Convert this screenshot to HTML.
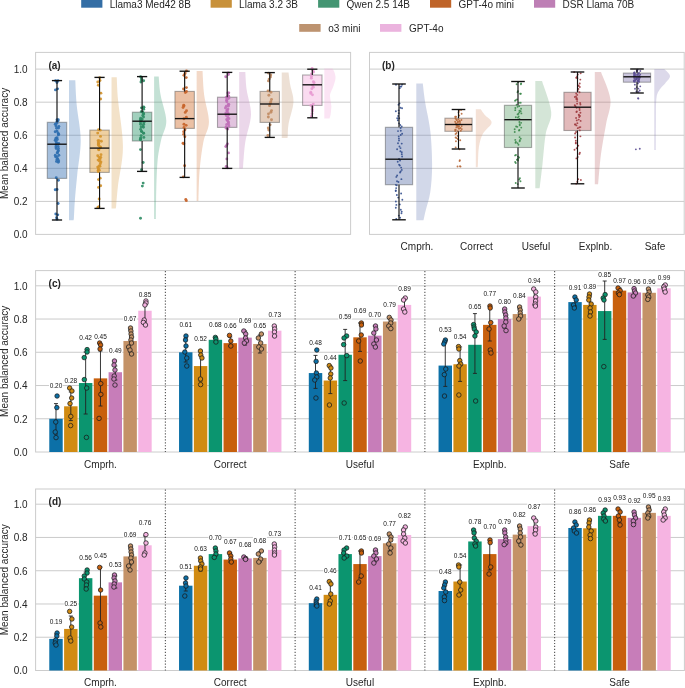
<!DOCTYPE html>
<html><head><meta charset="utf-8"><style>
html,body{margin:0;padding:0;background:#fff;width:685px;height:688px;overflow:hidden}
svg{display:block;will-change:transform}
text{font-family:"Liberation Sans", sans-serif}
</style></head><body>
<svg width="685" height="688" viewBox="0 0 685 688" font-family='"Liberation Sans", sans-serif'>
<rect x="0" y="0" width="685" height="688" fill="white" />
<rect x="81.2" y="-0.3" width="21.2" height="8" fill="#346ea5" />
<text x="109.7" y="7.8" font-size="10" text-anchor="start" font-weight="normal" fill="#262626" >Llama3 Med42 8B</text>
<rect x="210.6" y="-0.3" width="21.2" height="8" fill="#c8913a" />
<text x="239.1" y="7.8" font-size="10" text-anchor="start" font-weight="normal" fill="#262626" >Llama 3.2 3B</text>
<rect x="318.1" y="-0.3" width="21.2" height="8" fill="#439572" />
<text x="346.6" y="7.8" font-size="10" text-anchor="start" font-weight="normal" fill="#262626" >Qwen 2.5 14B</text>
<rect x="430" y="-0.3" width="21.2" height="8" fill="#bf6429" />
<text x="458.5" y="7.8" font-size="10" text-anchor="start" font-weight="normal" fill="#262626" >GPT-4o mini</text>
<rect x="534" y="-0.3" width="21.2" height="8" fill="#be7fb5" />
<text x="562.5" y="7.8" font-size="10" text-anchor="start" font-weight="normal" fill="#262626" >DSR Llama 70B</text>
<rect x="299.2" y="24" width="21.4" height="7.8" fill="#bd9370" />
<text x="328.2" y="31.8" font-size="10" text-anchor="start" font-weight="normal" fill="#262626" >o3 mini</text>
<rect x="380" y="24" width="21.4" height="7.8" fill="#ebb3de" />
<text x="409" y="31.8" font-size="10" text-anchor="start" font-weight="normal" fill="#262626" >GPT-4o</text>
<line x1="35.6" y1="201.42" x2="350.6" y2="201.42" stroke="#c2c2c2" stroke-width="0.85" />
<line x1="35.6" y1="168.34" x2="350.6" y2="168.34" stroke="#c2c2c2" stroke-width="0.85" />
<line x1="35.6" y1="135.26" x2="350.6" y2="135.26" stroke="#c2c2c2" stroke-width="0.85" />
<line x1="35.6" y1="102.18" x2="350.6" y2="102.18" stroke="#c2c2c2" stroke-width="0.85" />
<line x1="35.6" y1="69.1" x2="350.6" y2="69.1" stroke="#c2c2c2" stroke-width="0.85" />
<rect x="35.6" y="52.4" width="315" height="182" fill="none" stroke="#cccccc" stroke-width="1"/>
<text x="27.6" y="238.3" font-size="10" text-anchor="end" font-weight="normal" fill="#262626" >0.0</text>
<text x="27.6" y="205.22" font-size="10" text-anchor="end" font-weight="normal" fill="#262626" >0.2</text>
<text x="27.6" y="172.14" font-size="10" text-anchor="end" font-weight="normal" fill="#262626" >0.4</text>
<text x="27.6" y="139.06" font-size="10" text-anchor="end" font-weight="normal" fill="#262626" >0.6</text>
<text x="27.6" y="105.98" font-size="10" text-anchor="end" font-weight="normal" fill="#262626" >0.8</text>
<text x="27.6" y="72.9" font-size="10" text-anchor="end" font-weight="normal" fill="#262626" >1.0</text>
<path d="M69,80.2 L75.3,80.2 C75.53,84.33 75.8,95.03 76.7,105 C77.6,114.97 80.62,128.33 80.7,140 C80.78,151.67 78.17,165 77.2,175 C76.23,185 75.45,192.83 74.9,200 C74.35,207.17 74.18,214.63 73.9,218 C73.62,221.37 73.32,219.83 73.2,220.2 L69,220.2 Z" fill="#3f76b8" fill-opacity="0.31"/>
<path d="M111.55,77.2 L116.75,77.2 C116.97,81 117.02,88.37 118.05,100 C119.08,111.63 122.97,132.67 122.95,147 C122.93,161.33 119.08,176.17 117.95,186 C116.82,195.83 116.55,202.27 116.15,206 C115.75,209.73 115.65,208 115.55,208.4 L111.55,208.4 Z" fill="#d7a050" fill-opacity="0.31"/>
<path d="M154.1,76.6 L158.7,76.6 C159.02,79.67 159.33,87.6 160.6,95 C161.87,102.4 166.22,113.5 166.3,121 C166.38,128.5 162.58,133 161.1,140 C159.62,147 158.23,153 157.4,163 C156.57,173 156.35,190.67 156.1,200 C155.85,209.33 155.93,215.83 155.9,219 L154.1,219 Z" fill="#3f9e78" fill-opacity="0.31"/>
<path d="M196.65,71.1 L202.55,71.1 C202.82,75.08 203.08,86.52 204.15,95 C205.22,103.48 209.08,114.17 208.95,122 C208.82,129.83 204.9,134 203.35,142 C201.8,150 200.47,160.5 199.65,170 C198.83,179.5 198.68,193.83 198.45,199 C198.22,204.17 198.28,200.67 198.25,201 L196.65,201 Z" fill="#d7844e" fill-opacity="0.31"/>
<path d="M239.2,71.9 L245.3,71.9 C245.53,74.92 245.75,82.9 246.7,90 C247.65,97.1 251.23,105.83 251,114.5 C250.77,123.17 246.62,133.42 245.3,142 C243.98,150.58 243.53,161.6 243.1,166 C242.67,170.4 242.77,168 242.7,168.4 L239.2,168.4 Z" fill="#c07ebb" fill-opacity="0.31"/>
<path d="M281.75,72.4 L288.55,72.4 C288.83,74.5 289.43,80.07 290.25,85 C291.07,89.93 293.73,95.5 293.45,102 C293.17,108.5 289.5,118.33 288.55,124 C287.6,129.67 287.95,133.67 287.75,136 C287.55,138.33 287.42,137.67 287.35,138 L281.75,138 Z" fill="#c49a78" fill-opacity="0.31"/>
<path d="M324.3,68.6 L332.3,68.6 C332.63,69.17 333.77,70.38 334.3,72 C334.83,73.62 335.67,75.9 335.5,78.3 C335.33,80.7 334.13,83.95 333.3,86.4 C332.47,88.85 331.03,91.23 330.5,93 C329.97,94.77 329.97,94.87 330.1,97 C330.23,99.13 331.17,103.3 331.3,105.8 C331.43,108.3 331.07,110.3 330.9,112 C330.73,113.7 330.53,114.92 330.3,116 C330.07,117.08 329.63,118.08 329.5,118.5 L324.3,118.5 Z" fill="#f2a9dc" fill-opacity="0.31"/>
<rect x="47.3" y="122.3" width="19.4" height="56.1" fill="#2866af" fill-opacity="0.42" stroke="#3f3f3f" stroke-opacity="0.42" stroke-width="1.1"/>
<rect x="89.85" y="130.1" width="19.4" height="42.3" fill="#d9901f" fill-opacity="0.42" stroke="#3f3f3f" stroke-opacity="0.42" stroke-width="1.1"/>
<rect x="132.4" y="112.2" width="19.4" height="28.8" fill="#1f8f62" fill-opacity="0.42" stroke="#3f3f3f" stroke-opacity="0.42" stroke-width="1.1"/>
<rect x="174.95" y="91.4" width="19.4" height="37" fill="#cf6a25" fill-opacity="0.42" stroke="#3f3f3f" stroke-opacity="0.42" stroke-width="1.1"/>
<rect x="217.5" y="97.2" width="19.4" height="30.2" fill="#b871b0" fill-opacity="0.42" stroke="#3f3f3f" stroke-opacity="0.42" stroke-width="1.1"/>
<rect x="260.05" y="91.4" width="19.4" height="31" fill="#c08d63" fill-opacity="0.42" stroke="#3f3f3f" stroke-opacity="0.42" stroke-width="1.1"/>
<rect x="302.6" y="75" width="19.4" height="30.4" fill="#f2a9dc" fill-opacity="0.42" stroke="#3f3f3f" stroke-opacity="0.42" stroke-width="1.1"/>
<circle cx="55.61" cy="80.78" r="1.45" fill="#2d6eaf" fill-opacity="0.9"/>
<circle cx="58" cy="80.8" r="1.45" fill="#2d6eaf" fill-opacity="0.9"/>
<circle cx="56.98" cy="82.56" r="1.45" fill="#2d6eaf" fill-opacity="0.9"/>
<circle cx="57.58" cy="88.83" r="1.45" fill="#2d6eaf" fill-opacity="0.9"/>
<circle cx="55.46" cy="89.92" r="1.45" fill="#2d6eaf" fill-opacity="0.9"/>
<circle cx="58.28" cy="119.65" r="1.45" fill="#2d6eaf" fill-opacity="0.9"/>
<circle cx="58" cy="120.9" r="1.45" fill="#2d6eaf" fill-opacity="0.9"/>
<circle cx="56.79" cy="123.18" r="1.45" fill="#2d6eaf" fill-opacity="0.9"/>
<circle cx="55.97" cy="126.06" r="1.45" fill="#2d6eaf" fill-opacity="0.9"/>
<circle cx="58.53" cy="128.02" r="1.45" fill="#2d6eaf" fill-opacity="0.9"/>
<circle cx="55.2" cy="131.73" r="1.45" fill="#2d6eaf" fill-opacity="0.9"/>
<circle cx="58.67" cy="134.3" r="1.45" fill="#2d6eaf" fill-opacity="0.9"/>
<circle cx="55.92" cy="138.14" r="1.45" fill="#2d6eaf" fill-opacity="0.9"/>
<circle cx="55.21" cy="140.18" r="1.45" fill="#2d6eaf" fill-opacity="0.9"/>
<circle cx="56.76" cy="143.2" r="1.45" fill="#2d6eaf" fill-opacity="0.9"/>
<circle cx="55.99" cy="144.78" r="1.45" fill="#2d6eaf" fill-opacity="0.9"/>
<circle cx="55.93" cy="146.97" r="1.45" fill="#2d6eaf" fill-opacity="0.9"/>
<circle cx="56.2" cy="148.62" r="1.45" fill="#2d6eaf" fill-opacity="0.9"/>
<circle cx="58.28" cy="151.05" r="1.45" fill="#2d6eaf" fill-opacity="0.9"/>
<circle cx="57.54" cy="152.75" r="1.45" fill="#2d6eaf" fill-opacity="0.9"/>
<circle cx="58.87" cy="155.29" r="1.45" fill="#2d6eaf" fill-opacity="0.9"/>
<circle cx="55.56" cy="156.87" r="1.45" fill="#2d6eaf" fill-opacity="0.9"/>
<circle cx="57.84" cy="159.17" r="1.45" fill="#2d6eaf" fill-opacity="0.9"/>
<circle cx="58.66" cy="160.94" r="1.45" fill="#2d6eaf" fill-opacity="0.9"/>
<circle cx="58.25" cy="162.34" r="1.45" fill="#2d6eaf" fill-opacity="0.9"/>
<circle cx="56.25" cy="177.77" r="1.45" fill="#2d6eaf" fill-opacity="0.9"/>
<circle cx="58.45" cy="180.28" r="1.45" fill="#2d6eaf" fill-opacity="0.9"/>
<circle cx="57.02" cy="189.47" r="1.45" fill="#2d6eaf" fill-opacity="0.9"/>
<circle cx="55.23" cy="189.79" r="1.45" fill="#2d6eaf" fill-opacity="0.9"/>
<circle cx="58.13" cy="203.53" r="1.45" fill="#2d6eaf" fill-opacity="0.9"/>
<circle cx="55.76" cy="214.04" r="1.45" fill="#2d6eaf" fill-opacity="0.9"/>
<circle cx="57.77" cy="214.84" r="1.45" fill="#2d6eaf" fill-opacity="0.9"/>
<circle cx="56.52" cy="217.75" r="1.45" fill="#2d6eaf" fill-opacity="0.9"/>
<circle cx="57.03" cy="219.22" r="1.45" fill="#2d6eaf" fill-opacity="0.9"/>
<circle cx="57.08" cy="119.61" r="1.45" fill="#2d6eaf" fill-opacity="0.9"/>
<circle cx="56.96" cy="121.52" r="1.45" fill="#2d6eaf" fill-opacity="0.9"/>
<circle cx="55.27" cy="124.26" r="1.45" fill="#2d6eaf" fill-opacity="0.9"/>
<circle cx="58.84" cy="126.37" r="1.45" fill="#2d6eaf" fill-opacity="0.9"/>
<circle cx="56.6" cy="128.24" r="1.45" fill="#2d6eaf" fill-opacity="0.9"/>
<circle cx="57.01" cy="131.09" r="1.45" fill="#2d6eaf" fill-opacity="0.9"/>
<circle cx="58.03" cy="132.93" r="1.45" fill="#2d6eaf" fill-opacity="0.9"/>
<circle cx="58.37" cy="134.89" r="1.45" fill="#2d6eaf" fill-opacity="0.9"/>
<circle cx="57.05" cy="137.66" r="1.45" fill="#2d6eaf" fill-opacity="0.9"/>
<circle cx="57.3" cy="139.47" r="1.45" fill="#2d6eaf" fill-opacity="0.9"/>
<circle cx="56.12" cy="141.74" r="1.45" fill="#2d6eaf" fill-opacity="0.9"/>
<circle cx="58.74" cy="143.5" r="1.45" fill="#2d6eaf" fill-opacity="0.9"/>
<circle cx="58.08" cy="146.36" r="1.45" fill="#2d6eaf" fill-opacity="0.9"/>
<circle cx="58.47" cy="148.49" r="1.45" fill="#2d6eaf" fill-opacity="0.9"/>
<circle cx="58.17" cy="150.51" r="1.45" fill="#2d6eaf" fill-opacity="0.9"/>
<circle cx="57.23" cy="152.64" r="1.45" fill="#2d6eaf" fill-opacity="0.9"/>
<circle cx="55.31" cy="155.2" r="1.45" fill="#2d6eaf" fill-opacity="0.9"/>
<circle cx="57.27" cy="156.86" r="1.45" fill="#2d6eaf" fill-opacity="0.9"/>
<circle cx="57.02" cy="159.29" r="1.45" fill="#2d6eaf" fill-opacity="0.9"/>
<circle cx="56.46" cy="161.38" r="1.45" fill="#2d6eaf" fill-opacity="0.9"/>
<circle cx="99.7" cy="77.7" r="1.45" fill="#d4922a" fill-opacity="0.9"/>
<circle cx="99.98" cy="80.57" r="1.45" fill="#d4922a" fill-opacity="0.9"/>
<circle cx="97.76" cy="81.98" r="1.45" fill="#d4922a" fill-opacity="0.9"/>
<circle cx="98.32" cy="85.27" r="1.45" fill="#d4922a" fill-opacity="0.9"/>
<circle cx="100.92" cy="93.14" r="1.45" fill="#d4922a" fill-opacity="0.9"/>
<circle cx="100.68" cy="98.95" r="1.45" fill="#d4922a" fill-opacity="0.9"/>
<circle cx="98.62" cy="129.77" r="1.45" fill="#d4922a" fill-opacity="0.9"/>
<circle cx="100.21" cy="130.17" r="1.45" fill="#d4922a" fill-opacity="0.9"/>
<circle cx="97.71" cy="133.11" r="1.45" fill="#d4922a" fill-opacity="0.9"/>
<circle cx="100.52" cy="136.4" r="1.45" fill="#d4922a" fill-opacity="0.9"/>
<circle cx="98.07" cy="140.8" r="1.45" fill="#d4922a" fill-opacity="0.9"/>
<circle cx="98.96" cy="140.66" r="1.45" fill="#d4922a" fill-opacity="0.9"/>
<circle cx="98.26" cy="143.02" r="1.45" fill="#d4922a" fill-opacity="0.9"/>
<circle cx="98.29" cy="144.82" r="1.45" fill="#d4922a" fill-opacity="0.9"/>
<circle cx="100.35" cy="146.96" r="1.45" fill="#d4922a" fill-opacity="0.9"/>
<circle cx="98.87" cy="149.68" r="1.45" fill="#d4922a" fill-opacity="0.9"/>
<circle cx="97.74" cy="155.71" r="1.45" fill="#d4922a" fill-opacity="0.9"/>
<circle cx="99.25" cy="157.55" r="1.45" fill="#d4922a" fill-opacity="0.9"/>
<circle cx="98.06" cy="160.12" r="1.45" fill="#d4922a" fill-opacity="0.9"/>
<circle cx="99.59" cy="161.17" r="1.45" fill="#d4922a" fill-opacity="0.9"/>
<circle cx="99.95" cy="166.25" r="1.45" fill="#d4922a" fill-opacity="0.9"/>
<circle cx="97.73" cy="167.11" r="1.45" fill="#d4922a" fill-opacity="0.9"/>
<circle cx="98.21" cy="170.18" r="1.45" fill="#d4922a" fill-opacity="0.9"/>
<circle cx="98.26" cy="171.66" r="1.45" fill="#d4922a" fill-opacity="0.9"/>
<circle cx="100.23" cy="178.14" r="1.45" fill="#d4922a" fill-opacity="0.9"/>
<circle cx="98.49" cy="179.58" r="1.45" fill="#d4922a" fill-opacity="0.9"/>
<circle cx="100.68" cy="185.81" r="1.45" fill="#d4922a" fill-opacity="0.9"/>
<circle cx="98.5" cy="187.42" r="1.45" fill="#d4922a" fill-opacity="0.9"/>
<circle cx="99.15" cy="199.06" r="1.45" fill="#d4922a" fill-opacity="0.9"/>
<circle cx="98.87" cy="206.7" r="1.45" fill="#d4922a" fill-opacity="0.9"/>
<circle cx="97.87" cy="207.44" r="1.45" fill="#d4922a" fill-opacity="0.9"/>
<circle cx="101.33" cy="141.3" r="1.45" fill="#d4922a" fill-opacity="0.9"/>
<circle cx="98.81" cy="143.49" r="1.45" fill="#d4922a" fill-opacity="0.9"/>
<circle cx="98.83" cy="145.75" r="1.45" fill="#d4922a" fill-opacity="0.9"/>
<circle cx="100.48" cy="147.53" r="1.45" fill="#d4922a" fill-opacity="0.9"/>
<circle cx="98.61" cy="149.41" r="1.45" fill="#d4922a" fill-opacity="0.9"/>
<circle cx="100.99" cy="154.63" r="1.45" fill="#d4922a" fill-opacity="0.9"/>
<circle cx="100.76" cy="157.57" r="1.45" fill="#d4922a" fill-opacity="0.9"/>
<circle cx="99.82" cy="159.14" r="1.45" fill="#d4922a" fill-opacity="0.9"/>
<circle cx="100.95" cy="161.98" r="1.45" fill="#d4922a" fill-opacity="0.9"/>
<circle cx="100.33" cy="163.81" r="1.45" fill="#d4922a" fill-opacity="0.9"/>
<circle cx="99.09" cy="165.88" r="1.45" fill="#d4922a" fill-opacity="0.9"/>
<circle cx="98.43" cy="168.34" r="1.45" fill="#d4922a" fill-opacity="0.9"/>
<circle cx="99.3" cy="170.16" r="1.45" fill="#d4922a" fill-opacity="0.9"/>
<circle cx="140.6" cy="76.73" r="1.45" fill="#2e8c64" fill-opacity="0.9"/>
<circle cx="141.33" cy="78.1" r="1.45" fill="#2e8c64" fill-opacity="0.9"/>
<circle cx="141.44" cy="79.9" r="1.45" fill="#2e8c64" fill-opacity="0.9"/>
<circle cx="143.62" cy="80.81" r="1.45" fill="#2e8c64" fill-opacity="0.9"/>
<circle cx="140.96" cy="82.06" r="1.45" fill="#2e8c64" fill-opacity="0.9"/>
<circle cx="143.95" cy="107.33" r="1.45" fill="#2e8c64" fill-opacity="0.9"/>
<circle cx="141.49" cy="107.87" r="1.45" fill="#2e8c64" fill-opacity="0.9"/>
<circle cx="142.76" cy="111.97" r="1.45" fill="#2e8c64" fill-opacity="0.9"/>
<circle cx="143.74" cy="114.08" r="1.45" fill="#2e8c64" fill-opacity="0.9"/>
<circle cx="143.55" cy="116.95" r="1.45" fill="#2e8c64" fill-opacity="0.9"/>
<circle cx="142.04" cy="119.19" r="1.45" fill="#2e8c64" fill-opacity="0.9"/>
<circle cx="141.09" cy="120.48" r="1.45" fill="#2e8c64" fill-opacity="0.9"/>
<circle cx="140.52" cy="122.64" r="1.45" fill="#2e8c64" fill-opacity="0.9"/>
<circle cx="143.66" cy="124.17" r="1.45" fill="#2e8c64" fill-opacity="0.9"/>
<circle cx="143.08" cy="125.98" r="1.45" fill="#2e8c64" fill-opacity="0.9"/>
<circle cx="143.4" cy="127.29" r="1.45" fill="#2e8c64" fill-opacity="0.9"/>
<circle cx="141.49" cy="131.33" r="1.45" fill="#2e8c64" fill-opacity="0.9"/>
<circle cx="143.5" cy="133.08" r="1.45" fill="#2e8c64" fill-opacity="0.9"/>
<circle cx="143.83" cy="137.41" r="1.45" fill="#2e8c64" fill-opacity="0.9"/>
<circle cx="140.71" cy="138.64" r="1.45" fill="#2e8c64" fill-opacity="0.9"/>
<circle cx="140.6" cy="139.83" r="1.45" fill="#2e8c64" fill-opacity="0.9"/>
<circle cx="140.48" cy="149.59" r="1.45" fill="#2e8c64" fill-opacity="0.9"/>
<circle cx="143.19" cy="162.46" r="1.45" fill="#2e8c64" fill-opacity="0.9"/>
<circle cx="141.5" cy="169.69" r="1.45" fill="#2e8c64" fill-opacity="0.9"/>
<circle cx="143.17" cy="183.1" r="1.45" fill="#2e8c64" fill-opacity="0.9"/>
<circle cx="142.37" cy="186.08" r="1.45" fill="#2e8c64" fill-opacity="0.9"/>
<circle cx="140.51" cy="218.21" r="1.45" fill="#2e8c64" fill-opacity="0.9"/>
<circle cx="143.58" cy="107.05" r="1.45" fill="#2e8c64" fill-opacity="0.9"/>
<circle cx="143.72" cy="109.17" r="1.45" fill="#2e8c64" fill-opacity="0.9"/>
<circle cx="141.25" cy="111.63" r="1.45" fill="#2e8c64" fill-opacity="0.9"/>
<circle cx="143.35" cy="113.21" r="1.45" fill="#2e8c64" fill-opacity="0.9"/>
<circle cx="142.75" cy="115.47" r="1.45" fill="#2e8c64" fill-opacity="0.9"/>
<circle cx="140.64" cy="118.31" r="1.45" fill="#2e8c64" fill-opacity="0.9"/>
<circle cx="140.35" cy="119.99" r="1.45" fill="#2e8c64" fill-opacity="0.9"/>
<circle cx="143.96" cy="122.34" r="1.45" fill="#2e8c64" fill-opacity="0.9"/>
<circle cx="140.64" cy="124.33" r="1.45" fill="#2e8c64" fill-opacity="0.9"/>
<circle cx="141.12" cy="127" r="1.45" fill="#2e8c64" fill-opacity="0.9"/>
<circle cx="140.59" cy="129.33" r="1.45" fill="#2e8c64" fill-opacity="0.9"/>
<circle cx="141.64" cy="131.58" r="1.45" fill="#2e8c64" fill-opacity="0.9"/>
<circle cx="143.66" cy="133.24" r="1.45" fill="#2e8c64" fill-opacity="0.9"/>
<circle cx="141.16" cy="135.58" r="1.45" fill="#2e8c64" fill-opacity="0.9"/>
<circle cx="140.58" cy="137.92" r="1.45" fill="#2e8c64" fill-opacity="0.9"/>
<circle cx="140.35" cy="139.61" r="1.45" fill="#2e8c64" fill-opacity="0.9"/>
<circle cx="186.48" cy="70.94" r="1.45" fill="#c8642a" fill-opacity="0.9"/>
<circle cx="185.02" cy="73.56" r="1.45" fill="#c8642a" fill-opacity="0.9"/>
<circle cx="183.94" cy="75.35" r="1.45" fill="#c8642a" fill-opacity="0.9"/>
<circle cx="186.22" cy="77.58" r="1.45" fill="#c8642a" fill-opacity="0.9"/>
<circle cx="186.44" cy="87.59" r="1.45" fill="#c8642a" fill-opacity="0.9"/>
<circle cx="183.57" cy="88.99" r="1.45" fill="#c8642a" fill-opacity="0.9"/>
<circle cx="186.47" cy="91.43" r="1.45" fill="#c8642a" fill-opacity="0.9"/>
<circle cx="185.37" cy="92.53" r="1.45" fill="#c8642a" fill-opacity="0.9"/>
<circle cx="183.73" cy="105.23" r="1.45" fill="#c8642a" fill-opacity="0.9"/>
<circle cx="183.92" cy="106" r="1.45" fill="#c8642a" fill-opacity="0.9"/>
<circle cx="183.06" cy="107.52" r="1.45" fill="#c8642a" fill-opacity="0.9"/>
<circle cx="186.49" cy="110.76" r="1.45" fill="#c8642a" fill-opacity="0.9"/>
<circle cx="185.23" cy="112.41" r="1.45" fill="#c8642a" fill-opacity="0.9"/>
<circle cx="186.32" cy="117.31" r="1.45" fill="#c8642a" fill-opacity="0.9"/>
<circle cx="183.92" cy="118.76" r="1.45" fill="#c8642a" fill-opacity="0.9"/>
<circle cx="183.95" cy="124.28" r="1.45" fill="#c8642a" fill-opacity="0.9"/>
<circle cx="186.15" cy="125.34" r="1.45" fill="#c8642a" fill-opacity="0.9"/>
<circle cx="184.02" cy="127.54" r="1.45" fill="#c8642a" fill-opacity="0.9"/>
<circle cx="184.95" cy="129.68" r="1.45" fill="#c8642a" fill-opacity="0.9"/>
<circle cx="183.68" cy="131.72" r="1.45" fill="#c8642a" fill-opacity="0.9"/>
<circle cx="183.68" cy="134.36" r="1.45" fill="#c8642a" fill-opacity="0.9"/>
<circle cx="184.84" cy="136.76" r="1.45" fill="#c8642a" fill-opacity="0.9"/>
<circle cx="183.04" cy="143.21" r="1.45" fill="#c8642a" fill-opacity="0.9"/>
<circle cx="183.86" cy="143.83" r="1.45" fill="#c8642a" fill-opacity="0.9"/>
<circle cx="184.62" cy="165.69" r="1.45" fill="#c8642a" fill-opacity="0.9"/>
<circle cx="183.34" cy="176.9" r="1.45" fill="#c8642a" fill-opacity="0.9"/>
<circle cx="185.77" cy="199.46" r="1.45" fill="#c8642a" fill-opacity="0.9"/>
<circle cx="186.36" cy="200.64" r="1.45" fill="#c8642a" fill-opacity="0.9"/>
<circle cx="228.25" cy="72.99" r="1.45" fill="#c070b8" fill-opacity="0.9"/>
<circle cx="228.42" cy="74.46" r="1.45" fill="#c070b8" fill-opacity="0.9"/>
<circle cx="225.71" cy="76.71" r="1.45" fill="#c070b8" fill-opacity="0.9"/>
<circle cx="228.79" cy="92.83" r="1.45" fill="#c070b8" fill-opacity="0.9"/>
<circle cx="228.7" cy="96.21" r="1.45" fill="#c070b8" fill-opacity="0.9"/>
<circle cx="228.76" cy="98.23" r="1.45" fill="#c070b8" fill-opacity="0.9"/>
<circle cx="226.5" cy="100.42" r="1.45" fill="#c070b8" fill-opacity="0.9"/>
<circle cx="228.35" cy="104.43" r="1.45" fill="#c070b8" fill-opacity="0.9"/>
<circle cx="228.49" cy="105.9" r="1.45" fill="#c070b8" fill-opacity="0.9"/>
<circle cx="227.92" cy="108.94" r="1.45" fill="#c070b8" fill-opacity="0.9"/>
<circle cx="226.94" cy="110.53" r="1.45" fill="#c070b8" fill-opacity="0.9"/>
<circle cx="228.02" cy="112.93" r="1.45" fill="#c070b8" fill-opacity="0.9"/>
<circle cx="226.26" cy="115.45" r="1.45" fill="#c070b8" fill-opacity="0.9"/>
<circle cx="228.96" cy="118.65" r="1.45" fill="#c070b8" fill-opacity="0.9"/>
<circle cx="227.39" cy="120.43" r="1.45" fill="#c070b8" fill-opacity="0.9"/>
<circle cx="228.53" cy="122.46" r="1.45" fill="#c070b8" fill-opacity="0.9"/>
<circle cx="226.8" cy="124.37" r="1.45" fill="#c070b8" fill-opacity="0.9"/>
<circle cx="226.28" cy="126.62" r="1.45" fill="#c070b8" fill-opacity="0.9"/>
<circle cx="227.76" cy="129.03" r="1.45" fill="#c070b8" fill-opacity="0.9"/>
<circle cx="227.47" cy="143.85" r="1.45" fill="#c070b8" fill-opacity="0.9"/>
<circle cx="226.65" cy="145.41" r="1.45" fill="#c070b8" fill-opacity="0.9"/>
<circle cx="225.78" cy="146.61" r="1.45" fill="#c070b8" fill-opacity="0.9"/>
<circle cx="228.45" cy="152.92" r="1.45" fill="#c070b8" fill-opacity="0.9"/>
<circle cx="226.82" cy="158.89" r="1.45" fill="#c070b8" fill-opacity="0.9"/>
<circle cx="226.19" cy="166.41" r="1.45" fill="#c070b8" fill-opacity="0.9"/>
<circle cx="227.31" cy="167.8" r="1.45" fill="#c070b8" fill-opacity="0.9"/>
<circle cx="227.77" cy="92.95" r="1.45" fill="#c070b8" fill-opacity="0.9"/>
<circle cx="227.91" cy="95.39" r="1.45" fill="#c070b8" fill-opacity="0.9"/>
<circle cx="226.21" cy="97.4" r="1.45" fill="#c070b8" fill-opacity="0.9"/>
<circle cx="227.12" cy="99.38" r="1.45" fill="#c070b8" fill-opacity="0.9"/>
<circle cx="226.87" cy="101.85" r="1.45" fill="#c070b8" fill-opacity="0.9"/>
<circle cx="228.75" cy="104.33" r="1.45" fill="#c070b8" fill-opacity="0.9"/>
<circle cx="226.35" cy="106.32" r="1.45" fill="#c070b8" fill-opacity="0.9"/>
<circle cx="225.48" cy="108.06" r="1.45" fill="#c070b8" fill-opacity="0.9"/>
<circle cx="227.24" cy="110.9" r="1.45" fill="#c070b8" fill-opacity="0.9"/>
<circle cx="225.91" cy="113.01" r="1.45" fill="#c070b8" fill-opacity="0.9"/>
<circle cx="228.66" cy="114.85" r="1.45" fill="#c070b8" fill-opacity="0.9"/>
<circle cx="227.93" cy="117.48" r="1.45" fill="#c070b8" fill-opacity="0.9"/>
<circle cx="226.71" cy="119.56" r="1.45" fill="#c070b8" fill-opacity="0.9"/>
<circle cx="228.1" cy="121.68" r="1.45" fill="#c070b8" fill-opacity="0.9"/>
<circle cx="228.55" cy="124.12" r="1.45" fill="#c070b8" fill-opacity="0.9"/>
<circle cx="228.95" cy="126.06" r="1.45" fill="#c070b8" fill-opacity="0.9"/>
<circle cx="225.97" cy="128" r="1.45" fill="#c070b8" fill-opacity="0.9"/>
<circle cx="268.68" cy="73.16" r="1.45" fill="#c08a60" fill-opacity="0.9"/>
<circle cx="270.73" cy="74.94" r="1.45" fill="#c08a60" fill-opacity="0.9"/>
<circle cx="270.44" cy="77.07" r="1.45" fill="#c08a60" fill-opacity="0.9"/>
<circle cx="269.17" cy="79.11" r="1.45" fill="#c08a60" fill-opacity="0.9"/>
<circle cx="268.48" cy="80.88" r="1.45" fill="#c08a60" fill-opacity="0.9"/>
<circle cx="268" cy="90.88" r="1.45" fill="#c08a60" fill-opacity="0.9"/>
<circle cx="270.92" cy="92.3" r="1.45" fill="#c08a60" fill-opacity="0.9"/>
<circle cx="268.87" cy="95.23" r="1.45" fill="#c08a60" fill-opacity="0.9"/>
<circle cx="271.5" cy="99.51" r="1.45" fill="#c08a60" fill-opacity="0.9"/>
<circle cx="270.8" cy="101.67" r="1.45" fill="#c08a60" fill-opacity="0.9"/>
<circle cx="270.36" cy="103.26" r="1.45" fill="#c08a60" fill-opacity="0.9"/>
<circle cx="269.54" cy="105.64" r="1.45" fill="#c08a60" fill-opacity="0.9"/>
<circle cx="271.54" cy="110.61" r="1.45" fill="#c08a60" fill-opacity="0.9"/>
<circle cx="270.9" cy="112.25" r="1.45" fill="#c08a60" fill-opacity="0.9"/>
<circle cx="268.48" cy="113.86" r="1.45" fill="#c08a60" fill-opacity="0.9"/>
<circle cx="268.33" cy="117.03" r="1.45" fill="#c08a60" fill-opacity="0.9"/>
<circle cx="271.5" cy="119.7" r="1.45" fill="#c08a60" fill-opacity="0.9"/>
<circle cx="270.13" cy="124.83" r="1.45" fill="#c08a60" fill-opacity="0.9"/>
<circle cx="268.3" cy="128.04" r="1.45" fill="#c08a60" fill-opacity="0.9"/>
<circle cx="268.79" cy="130" r="1.45" fill="#c08a60" fill-opacity="0.9"/>
<circle cx="267.87" cy="135.55" r="1.45" fill="#c08a60" fill-opacity="0.9"/>
<circle cx="312.07" cy="68.42" r="1.45" fill="#e89ad2" fill-opacity="0.9"/>
<circle cx="312.78" cy="70.58" r="1.45" fill="#e89ad2" fill-opacity="0.9"/>
<circle cx="313.57" cy="72.07" r="1.45" fill="#e89ad2" fill-opacity="0.9"/>
<circle cx="311.48" cy="74.03" r="1.45" fill="#e89ad2" fill-opacity="0.9"/>
<circle cx="311.44" cy="76.27" r="1.45" fill="#e89ad2" fill-opacity="0.9"/>
<circle cx="311.35" cy="78.15" r="1.45" fill="#e89ad2" fill-opacity="0.9"/>
<circle cx="313.41" cy="81.65" r="1.45" fill="#e89ad2" fill-opacity="0.9"/>
<circle cx="314.1" cy="82.74" r="1.45" fill="#e89ad2" fill-opacity="0.9"/>
<circle cx="312.27" cy="85.18" r="1.45" fill="#e89ad2" fill-opacity="0.9"/>
<circle cx="313.32" cy="87.16" r="1.45" fill="#e89ad2" fill-opacity="0.9"/>
<circle cx="311.86" cy="88.63" r="1.45" fill="#e89ad2" fill-opacity="0.9"/>
<circle cx="310.81" cy="92.15" r="1.45" fill="#e89ad2" fill-opacity="0.9"/>
<circle cx="310.85" cy="93.4" r="1.45" fill="#e89ad2" fill-opacity="0.9"/>
<circle cx="312.47" cy="94.87" r="1.45" fill="#e89ad2" fill-opacity="0.9"/>
<circle cx="313.29" cy="104.08" r="1.45" fill="#e89ad2" fill-opacity="0.9"/>
<circle cx="310.92" cy="105.4" r="1.45" fill="#e89ad2" fill-opacity="0.9"/>
<circle cx="312.58" cy="107.05" r="1.45" fill="#e89ad2" fill-opacity="0.9"/>
<circle cx="312.31" cy="109.19" r="1.45" fill="#e89ad2" fill-opacity="0.9"/>
<circle cx="312.41" cy="111.1" r="1.45" fill="#e89ad2" fill-opacity="0.9"/>
<circle cx="312.08" cy="113.66" r="1.45" fill="#e89ad2" fill-opacity="0.9"/>
<circle cx="311.56" cy="116.22" r="1.45" fill="#e89ad2" fill-opacity="0.9"/>
<line x1="57" y1="80.6" x2="57" y2="122.3" stroke="#111" stroke-width="1.15" />
<line x1="57" y1="178.4" x2="57" y2="220" stroke="#111" stroke-width="1.15" />
<line x1="51.9" y1="80.6" x2="62.1" y2="80.6" stroke="#111" stroke-width="1.3499999999999999" />
<line x1="51.9" y1="220" x2="62.1" y2="220" stroke="#111" stroke-width="1.3499999999999999" />
<line x1="47.3" y1="144.2" x2="66.7" y2="144.2" stroke="#111" stroke-width="1.3499999999999999" />
<line x1="99.55" y1="77.4" x2="99.55" y2="130.1" stroke="#111" stroke-width="1.15" />
<line x1="99.55" y1="172.4" x2="99.55" y2="208.4" stroke="#111" stroke-width="1.15" />
<line x1="94.45" y1="77.4" x2="104.65" y2="77.4" stroke="#111" stroke-width="1.3499999999999999" />
<line x1="94.45" y1="208.4" x2="104.65" y2="208.4" stroke="#111" stroke-width="1.3499999999999999" />
<line x1="89.85" y1="148.1" x2="109.25" y2="148.1" stroke="#111" stroke-width="1.3499999999999999" />
<line x1="142.1" y1="76.6" x2="142.1" y2="112.2" stroke="#111" stroke-width="1.15" />
<line x1="142.1" y1="141" x2="142.1" y2="171.4" stroke="#111" stroke-width="1.15" />
<line x1="137" y1="76.6" x2="147.2" y2="76.6" stroke="#111" stroke-width="1.3499999999999999" />
<line x1="137" y1="171.4" x2="147.2" y2="171.4" stroke="#111" stroke-width="1.3499999999999999" />
<line x1="132.4" y1="121.2" x2="151.8" y2="121.2" stroke="#111" stroke-width="1.3499999999999999" />
<line x1="184.65" y1="71.2" x2="184.65" y2="91.4" stroke="#111" stroke-width="1.15" />
<line x1="184.65" y1="128.4" x2="184.65" y2="177.4" stroke="#111" stroke-width="1.15" />
<line x1="179.55" y1="71.2" x2="189.75" y2="71.2" stroke="#111" stroke-width="1.3499999999999999" />
<line x1="179.55" y1="177.4" x2="189.75" y2="177.4" stroke="#111" stroke-width="1.3499999999999999" />
<line x1="174.95" y1="118.6" x2="194.35" y2="118.6" stroke="#111" stroke-width="1.3499999999999999" />
<line x1="227.2" y1="72.4" x2="227.2" y2="97.2" stroke="#111" stroke-width="1.15" />
<line x1="227.2" y1="127.4" x2="227.2" y2="168.4" stroke="#111" stroke-width="1.15" />
<line x1="222.1" y1="72.4" x2="232.3" y2="72.4" stroke="#111" stroke-width="1.3499999999999999" />
<line x1="222.1" y1="168.4" x2="232.3" y2="168.4" stroke="#111" stroke-width="1.3499999999999999" />
<line x1="217.5" y1="114.2" x2="236.9" y2="114.2" stroke="#111" stroke-width="1.3499999999999999" />
<line x1="269.75" y1="72.6" x2="269.75" y2="91.4" stroke="#111" stroke-width="1.15" />
<line x1="269.75" y1="122.4" x2="269.75" y2="137.4" stroke="#111" stroke-width="1.15" />
<line x1="264.65" y1="72.6" x2="274.85" y2="72.6" stroke="#111" stroke-width="1.3499999999999999" />
<line x1="264.65" y1="137.4" x2="274.85" y2="137.4" stroke="#111" stroke-width="1.3499999999999999" />
<line x1="260.05" y1="104" x2="279.45" y2="104" stroke="#111" stroke-width="1.3499999999999999" />
<line x1="312.3" y1="69.2" x2="312.3" y2="75" stroke="#111" stroke-width="1.15" />
<line x1="312.3" y1="105.4" x2="312.3" y2="117.8" stroke="#111" stroke-width="1.15" />
<line x1="307.2" y1="69.2" x2="317.4" y2="69.2" stroke="#111" stroke-width="1.3499999999999999" />
<line x1="307.2" y1="117.8" x2="317.4" y2="117.8" stroke="#111" stroke-width="1.3499999999999999" />
<line x1="302.6" y1="84.8" x2="322" y2="84.8" stroke="#111" stroke-width="1.3499999999999999" />
<text x="48.4" y="68.9" font-size="10" text-anchor="start" font-weight="bold" fill="#262626" >(a)</text>
<line x1="369.5" y1="201.42" x2="684.2" y2="201.42" stroke="#c2c2c2" stroke-width="0.85" />
<line x1="369.5" y1="168.34" x2="684.2" y2="168.34" stroke="#c2c2c2" stroke-width="0.85" />
<line x1="369.5" y1="135.26" x2="684.2" y2="135.26" stroke="#c2c2c2" stroke-width="0.85" />
<line x1="369.5" y1="102.18" x2="684.2" y2="102.18" stroke="#c2c2c2" stroke-width="0.85" />
<line x1="369.5" y1="69.1" x2="684.2" y2="69.1" stroke="#c2c2c2" stroke-width="0.85" />
<rect x="369.5" y="52.4" width="314.7" height="182" fill="none" stroke="#cccccc" stroke-width="1"/>
<path d="M416.3,83.6 L422.8,83.6 C423.18,86.67 423.85,94.1 425.1,102 C426.35,109.9 429.13,120.5 430.3,131 C431.47,141.5 432.1,154.83 432.1,165 C432.1,175.17 431.35,184.5 430.3,192 C429.25,199.5 426.93,205.28 425.8,210 C424.67,214.72 423.88,218.58 423.5,220.3 L416.3,220.3 Z" fill="#6a7fb5" fill-opacity="0.3"/>
<path d="M475.8,109.2 L480.8,109.2 C481.47,110.17 483,112.75 484.8,115 C486.6,117.25 491.9,119.6 491.6,122.7 C491.3,125.8 485.12,129.55 483,133.6 C480.88,137.65 479.75,141.77 478.9,147 C478.05,152.23 478.12,161.62 477.9,165 C477.68,168.38 477.65,166.92 477.6,167.3 L475.8,167.3 Z" fill="#d99a78" fill-opacity="0.3"/>
<path d="M535.3,81 L542,81 C543.53,86.17 550.58,103.17 551.2,112 C551.82,120.83 547.15,125.33 545.7,134 C544.25,142.67 543.47,155.33 542.5,164 C541.53,172.67 540.4,181.97 539.9,186 C539.4,190.03 539.57,187.83 539.5,188.2 L535.3,188.2 Z" fill="#72a97c" fill-opacity="0.3"/>
<path d="M594.8,72 L601,72 C602.57,76.6 609.57,90.87 610.4,99.6 C611.23,108.33 607.57,115.33 606,124.4 C604.43,133.47 602.28,144.4 601,154 C599.72,163.6 598.82,176.95 598.3,182 C597.78,187.05 597.97,183.92 597.9,184.3 L594.8,184.3 Z" fill="#bd6a6e" fill-opacity="0.3"/>
<path d="M654.3,69 L664.3,69 C665.25,70.17 669.83,73.63 670,76 C670.17,78.37 666.95,81.03 665.3,83.2 C663.65,85.37 661.57,86.57 660.1,89 C658.63,91.43 657.2,92.63 656.5,97.8 C655.8,102.97 656.02,111.3 655.9,120 C655.78,128.7 655.82,145 655.8,150 L654.3,150 Z" fill="#8a82ba" fill-opacity="0.3"/>
<rect x="385.4" y="127.3" width="27.2" height="57.4" fill="#5a6fa6" fill-opacity="0.42" stroke="#3f3f3f" stroke-opacity="0.42" stroke-width="1.1"/>
<rect x="444.9" y="118.2" width="27.2" height="13.1" fill="#d68a5c" fill-opacity="0.42" stroke="#3f3f3f" stroke-opacity="0.42" stroke-width="1.1"/>
<rect x="504.4" y="105.3" width="27.2" height="42.2" fill="#67a572" fill-opacity="0.42" stroke="#3f3f3f" stroke-opacity="0.42" stroke-width="1.1"/>
<rect x="563.9" y="92.3" width="27.2" height="38.2" fill="#b9575b" fill-opacity="0.42" stroke="#3f3f3f" stroke-opacity="0.42" stroke-width="1.1"/>
<rect x="623.4" y="73.1" width="27.2" height="9.1" fill="#8478b0" fill-opacity="0.42" stroke="#3f3f3f" stroke-opacity="0.42" stroke-width="1.1"/>
<circle cx="402.1" cy="84.65" r="0.95" fill="#34508f" fill-opacity="0.9"/>
<circle cx="395.98" cy="84.7" r="0.95" fill="#34508f" fill-opacity="0.9"/>
<circle cx="401.28" cy="86.57" r="0.95" fill="#34508f" fill-opacity="0.9"/>
<circle cx="400.15" cy="86.61" r="0.95" fill="#34508f" fill-opacity="0.9"/>
<circle cx="399.72" cy="88.17" r="0.95" fill="#34508f" fill-opacity="0.9"/>
<circle cx="399.55" cy="103.35" r="0.95" fill="#34508f" fill-opacity="0.9"/>
<circle cx="398.53" cy="104.73" r="0.95" fill="#34508f" fill-opacity="0.9"/>
<circle cx="400.52" cy="107.69" r="0.95" fill="#34508f" fill-opacity="0.9"/>
<circle cx="402.06" cy="108.24" r="0.95" fill="#34508f" fill-opacity="0.9"/>
<circle cx="398.63" cy="110.42" r="0.95" fill="#34508f" fill-opacity="0.9"/>
<circle cx="395.84" cy="111.31" r="0.95" fill="#34508f" fill-opacity="0.9"/>
<circle cx="398.76" cy="113.3" r="0.95" fill="#34508f" fill-opacity="0.9"/>
<circle cx="398.18" cy="116.04" r="0.95" fill="#34508f" fill-opacity="0.9"/>
<circle cx="399.18" cy="118.18" r="0.95" fill="#34508f" fill-opacity="0.9"/>
<circle cx="397.21" cy="118.26" r="0.95" fill="#34508f" fill-opacity="0.9"/>
<circle cx="397.81" cy="120.23" r="0.95" fill="#34508f" fill-opacity="0.9"/>
<circle cx="399.07" cy="123.33" r="0.95" fill="#34508f" fill-opacity="0.9"/>
<circle cx="400.19" cy="124.94" r="0.95" fill="#34508f" fill-opacity="0.9"/>
<circle cx="401.68" cy="126.51" r="0.95" fill="#34508f" fill-opacity="0.9"/>
<circle cx="400.59" cy="128.04" r="0.95" fill="#34508f" fill-opacity="0.9"/>
<circle cx="400.79" cy="130.81" r="0.95" fill="#34508f" fill-opacity="0.9"/>
<circle cx="398.01" cy="131.09" r="0.95" fill="#34508f" fill-opacity="0.9"/>
<circle cx="402.14" cy="133.72" r="0.95" fill="#34508f" fill-opacity="0.9"/>
<circle cx="400.73" cy="134.95" r="0.95" fill="#34508f" fill-opacity="0.9"/>
<circle cx="398.74" cy="136.35" r="0.95" fill="#34508f" fill-opacity="0.9"/>
<circle cx="398.93" cy="138.43" r="0.95" fill="#34508f" fill-opacity="0.9"/>
<circle cx="399.01" cy="140.51" r="0.95" fill="#34508f" fill-opacity="0.9"/>
<circle cx="398.01" cy="143.29" r="0.95" fill="#34508f" fill-opacity="0.9"/>
<circle cx="401.72" cy="143.61" r="0.95" fill="#34508f" fill-opacity="0.9"/>
<circle cx="399.46" cy="146.52" r="0.95" fill="#34508f" fill-opacity="0.9"/>
<circle cx="400.52" cy="148.08" r="0.95" fill="#34508f" fill-opacity="0.9"/>
<circle cx="397.11" cy="149.28" r="0.95" fill="#34508f" fill-opacity="0.9"/>
<circle cx="400.36" cy="151.29" r="0.95" fill="#34508f" fill-opacity="0.9"/>
<circle cx="401.77" cy="152.3" r="0.95" fill="#34508f" fill-opacity="0.9"/>
<circle cx="401.8" cy="154.14" r="0.95" fill="#34508f" fill-opacity="0.9"/>
<circle cx="402.11" cy="156.54" r="0.95" fill="#34508f" fill-opacity="0.9"/>
<circle cx="399.03" cy="159.06" r="0.95" fill="#34508f" fill-opacity="0.9"/>
<circle cx="400.03" cy="160.47" r="0.95" fill="#34508f" fill-opacity="0.9"/>
<circle cx="397.72" cy="161.77" r="0.95" fill="#34508f" fill-opacity="0.9"/>
<circle cx="399.08" cy="164.66" r="0.95" fill="#34508f" fill-opacity="0.9"/>
<circle cx="399.84" cy="165.54" r="0.95" fill="#34508f" fill-opacity="0.9"/>
<circle cx="401.18" cy="167.6" r="0.95" fill="#34508f" fill-opacity="0.9"/>
<circle cx="401.77" cy="169.88" r="0.95" fill="#34508f" fill-opacity="0.9"/>
<circle cx="400.66" cy="171.41" r="0.95" fill="#34508f" fill-opacity="0.9"/>
<circle cx="400.04" cy="172.57" r="0.95" fill="#34508f" fill-opacity="0.9"/>
<circle cx="397.14" cy="175.47" r="0.95" fill="#34508f" fill-opacity="0.9"/>
<circle cx="396.32" cy="176.91" r="0.95" fill="#34508f" fill-opacity="0.9"/>
<circle cx="401.41" cy="179.13" r="0.95" fill="#34508f" fill-opacity="0.9"/>
<circle cx="397.03" cy="181.19" r="0.95" fill="#34508f" fill-opacity="0.9"/>
<circle cx="398.48" cy="182.07" r="0.95" fill="#34508f" fill-opacity="0.9"/>
<circle cx="395.82" cy="184.85" r="0.95" fill="#34508f" fill-opacity="0.9"/>
<circle cx="396.77" cy="185.37" r="0.95" fill="#34508f" fill-opacity="0.9"/>
<circle cx="396.16" cy="188.12" r="0.95" fill="#34508f" fill-opacity="0.9"/>
<circle cx="395.77" cy="190.54" r="0.95" fill="#34508f" fill-opacity="0.9"/>
<circle cx="395.74" cy="190.93" r="0.95" fill="#34508f" fill-opacity="0.9"/>
<circle cx="401.13" cy="193.45" r="0.95" fill="#34508f" fill-opacity="0.9"/>
<circle cx="396.85" cy="194.95" r="0.95" fill="#34508f" fill-opacity="0.9"/>
<circle cx="398.22" cy="197.6" r="0.95" fill="#34508f" fill-opacity="0.9"/>
<circle cx="402.33" cy="199.82" r="0.95" fill="#34508f" fill-opacity="0.9"/>
<circle cx="395.85" cy="201.55" r="0.95" fill="#34508f" fill-opacity="0.9"/>
<circle cx="399.78" cy="204.4" r="0.95" fill="#34508f" fill-opacity="0.9"/>
<circle cx="396.37" cy="204.92" r="0.95" fill="#34508f" fill-opacity="0.9"/>
<circle cx="395.81" cy="207.7" r="0.95" fill="#34508f" fill-opacity="0.9"/>
<circle cx="400.81" cy="209.68" r="0.95" fill="#34508f" fill-opacity="0.9"/>
<circle cx="401.73" cy="211.61" r="0.95" fill="#34508f" fill-opacity="0.9"/>
<circle cx="401.46" cy="213.27" r="0.95" fill="#34508f" fill-opacity="0.9"/>
<circle cx="398.81" cy="215.58" r="0.95" fill="#34508f" fill-opacity="0.9"/>
<circle cx="400.09" cy="217.8" r="0.95" fill="#34508f" fill-opacity="0.9"/>
<circle cx="396.29" cy="218.94" r="0.95" fill="#34508f" fill-opacity="0.9"/>
<circle cx="461.05" cy="110.01" r="0.95" fill="#b86a3c" fill-opacity="0.9"/>
<circle cx="459.08" cy="110.7" r="0.95" fill="#b86a3c" fill-opacity="0.9"/>
<circle cx="458.6" cy="112.5" r="0.95" fill="#b86a3c" fill-opacity="0.9"/>
<circle cx="461.63" cy="113.74" r="0.95" fill="#b86a3c" fill-opacity="0.9"/>
<circle cx="459.22" cy="115.5" r="0.95" fill="#b86a3c" fill-opacity="0.9"/>
<circle cx="455.22" cy="116.62" r="0.95" fill="#b86a3c" fill-opacity="0.9"/>
<circle cx="456.06" cy="116.78" r="0.95" fill="#b86a3c" fill-opacity="0.9"/>
<circle cx="455.33" cy="117.9" r="0.95" fill="#b86a3c" fill-opacity="0.9"/>
<circle cx="455.75" cy="118.85" r="0.95" fill="#b86a3c" fill-opacity="0.9"/>
<circle cx="458.56" cy="119.28" r="0.95" fill="#b86a3c" fill-opacity="0.9"/>
<circle cx="461.45" cy="119.93" r="0.95" fill="#b86a3c" fill-opacity="0.9"/>
<circle cx="456.68" cy="119.8" r="0.95" fill="#b86a3c" fill-opacity="0.9"/>
<circle cx="456.81" cy="120.34" r="0.95" fill="#b86a3c" fill-opacity="0.9"/>
<circle cx="459.34" cy="120.93" r="0.95" fill="#b86a3c" fill-opacity="0.9"/>
<circle cx="459.92" cy="121.25" r="0.95" fill="#b86a3c" fill-opacity="0.9"/>
<circle cx="457.98" cy="121.62" r="0.95" fill="#b86a3c" fill-opacity="0.9"/>
<circle cx="455.13" cy="121.73" r="0.95" fill="#b86a3c" fill-opacity="0.9"/>
<circle cx="457.88" cy="122.3" r="0.95" fill="#b86a3c" fill-opacity="0.9"/>
<circle cx="460.02" cy="123.06" r="0.95" fill="#b86a3c" fill-opacity="0.9"/>
<circle cx="455.78" cy="123.1" r="0.95" fill="#b86a3c" fill-opacity="0.9"/>
<circle cx="456.67" cy="123.74" r="0.95" fill="#b86a3c" fill-opacity="0.9"/>
<circle cx="458.64" cy="124.42" r="0.95" fill="#b86a3c" fill-opacity="0.9"/>
<circle cx="457.21" cy="125.16" r="0.95" fill="#b86a3c" fill-opacity="0.9"/>
<circle cx="456.54" cy="125.78" r="0.95" fill="#b86a3c" fill-opacity="0.9"/>
<circle cx="461.65" cy="126.1" r="0.95" fill="#b86a3c" fill-opacity="0.9"/>
<circle cx="458.05" cy="126.11" r="0.95" fill="#b86a3c" fill-opacity="0.9"/>
<circle cx="459.05" cy="126.25" r="0.95" fill="#b86a3c" fill-opacity="0.9"/>
<circle cx="457.94" cy="127.05" r="0.95" fill="#b86a3c" fill-opacity="0.9"/>
<circle cx="456.33" cy="127.38" r="0.95" fill="#b86a3c" fill-opacity="0.9"/>
<circle cx="460.56" cy="128.07" r="0.95" fill="#b86a3c" fill-opacity="0.9"/>
<circle cx="458.63" cy="128.6" r="0.95" fill="#b86a3c" fill-opacity="0.9"/>
<circle cx="459.25" cy="128.55" r="0.95" fill="#b86a3c" fill-opacity="0.9"/>
<circle cx="461.79" cy="129.08" r="0.95" fill="#b86a3c" fill-opacity="0.9"/>
<circle cx="455.23" cy="129.78" r="0.95" fill="#b86a3c" fill-opacity="0.9"/>
<circle cx="455.79" cy="130.03" r="0.95" fill="#b86a3c" fill-opacity="0.9"/>
<circle cx="460.82" cy="130.81" r="0.95" fill="#b86a3c" fill-opacity="0.9"/>
<circle cx="455.21" cy="130.93" r="0.95" fill="#b86a3c" fill-opacity="0.9"/>
<circle cx="457.89" cy="131.29" r="0.95" fill="#b86a3c" fill-opacity="0.9"/>
<circle cx="456.52" cy="133.06" r="0.95" fill="#b86a3c" fill-opacity="0.9"/>
<circle cx="455.6" cy="133.94" r="0.95" fill="#b86a3c" fill-opacity="0.9"/>
<circle cx="457.64" cy="135.89" r="0.95" fill="#b86a3c" fill-opacity="0.9"/>
<circle cx="455.62" cy="137.39" r="0.95" fill="#b86a3c" fill-opacity="0.9"/>
<circle cx="456.41" cy="138.12" r="0.95" fill="#b86a3c" fill-opacity="0.9"/>
<circle cx="457.76" cy="139.02" r="0.95" fill="#b86a3c" fill-opacity="0.9"/>
<circle cx="460.22" cy="140.27" r="0.95" fill="#b86a3c" fill-opacity="0.9"/>
<circle cx="455.93" cy="141.31" r="0.95" fill="#b86a3c" fill-opacity="0.9"/>
<circle cx="455.65" cy="147.33" r="0.95" fill="#b86a3c" fill-opacity="0.9"/>
<circle cx="459.46" cy="149.27" r="0.95" fill="#b86a3c" fill-opacity="0.9"/>
<circle cx="459.81" cy="160.22" r="0.95" fill="#b86a3c" fill-opacity="0.9"/>
<circle cx="459.58" cy="161.02" r="0.95" fill="#b86a3c" fill-opacity="0.9"/>
<circle cx="460.02" cy="166.2" r="0.95" fill="#b86a3c" fill-opacity="0.9"/>
<circle cx="457.53" cy="166.47" r="0.95" fill="#b86a3c" fill-opacity="0.9"/>
<circle cx="460.53" cy="166.62" r="0.95" fill="#b86a3c" fill-opacity="0.9"/>
<circle cx="518.18" cy="82.16" r="0.95" fill="#3d8a4d" fill-opacity="0.9"/>
<circle cx="521.09" cy="83.38" r="0.95" fill="#3d8a4d" fill-opacity="0.9"/>
<circle cx="520.94" cy="84.22" r="0.95" fill="#3d8a4d" fill-opacity="0.9"/>
<circle cx="516.62" cy="84.25" r="0.95" fill="#3d8a4d" fill-opacity="0.9"/>
<circle cx="517.92" cy="91.21" r="0.95" fill="#3d8a4d" fill-opacity="0.9"/>
<circle cx="517.51" cy="92.25" r="0.95" fill="#3d8a4d" fill-opacity="0.9"/>
<circle cx="520.85" cy="93.7" r="0.95" fill="#3d8a4d" fill-opacity="0.9"/>
<circle cx="520.16" cy="93.74" r="0.95" fill="#3d8a4d" fill-opacity="0.9"/>
<circle cx="517.02" cy="99.47" r="0.95" fill="#3d8a4d" fill-opacity="0.9"/>
<circle cx="515.6" cy="100.14" r="0.95" fill="#3d8a4d" fill-opacity="0.9"/>
<circle cx="515.05" cy="100.83" r="0.95" fill="#3d8a4d" fill-opacity="0.9"/>
<circle cx="520.69" cy="102.73" r="0.95" fill="#3d8a4d" fill-opacity="0.9"/>
<circle cx="519.01" cy="102.76" r="0.95" fill="#3d8a4d" fill-opacity="0.9"/>
<circle cx="516.62" cy="104.79" r="0.95" fill="#3d8a4d" fill-opacity="0.9"/>
<circle cx="519.16" cy="106.15" r="0.95" fill="#3d8a4d" fill-opacity="0.9"/>
<circle cx="517.58" cy="106.86" r="0.95" fill="#3d8a4d" fill-opacity="0.9"/>
<circle cx="515.36" cy="107.98" r="0.95" fill="#3d8a4d" fill-opacity="0.9"/>
<circle cx="521.06" cy="108.73" r="0.95" fill="#3d8a4d" fill-opacity="0.9"/>
<circle cx="515.25" cy="110.15" r="0.95" fill="#3d8a4d" fill-opacity="0.9"/>
<circle cx="519.46" cy="110.59" r="0.95" fill="#3d8a4d" fill-opacity="0.9"/>
<circle cx="520.69" cy="111.22" r="0.95" fill="#3d8a4d" fill-opacity="0.9"/>
<circle cx="519.38" cy="112.14" r="0.95" fill="#3d8a4d" fill-opacity="0.9"/>
<circle cx="521.37" cy="113.41" r="0.95" fill="#3d8a4d" fill-opacity="0.9"/>
<circle cx="518.5" cy="113.78" r="0.95" fill="#3d8a4d" fill-opacity="0.9"/>
<circle cx="517.6" cy="114.36" r="0.95" fill="#3d8a4d" fill-opacity="0.9"/>
<circle cx="518.65" cy="116.55" r="0.95" fill="#3d8a4d" fill-opacity="0.9"/>
<circle cx="515.83" cy="117.25" r="0.95" fill="#3d8a4d" fill-opacity="0.9"/>
<circle cx="517.88" cy="117.58" r="0.95" fill="#3d8a4d" fill-opacity="0.9"/>
<circle cx="519.43" cy="118.9" r="0.95" fill="#3d8a4d" fill-opacity="0.9"/>
<circle cx="519.4" cy="122.06" r="0.95" fill="#3d8a4d" fill-opacity="0.9"/>
<circle cx="521.14" cy="122.87" r="0.95" fill="#3d8a4d" fill-opacity="0.9"/>
<circle cx="519.67" cy="124.26" r="0.95" fill="#3d8a4d" fill-opacity="0.9"/>
<circle cx="519.78" cy="125.25" r="0.95" fill="#3d8a4d" fill-opacity="0.9"/>
<circle cx="516.13" cy="126.49" r="0.95" fill="#3d8a4d" fill-opacity="0.9"/>
<circle cx="517.34" cy="126.83" r="0.95" fill="#3d8a4d" fill-opacity="0.9"/>
<circle cx="521.25" cy="127.58" r="0.95" fill="#3d8a4d" fill-opacity="0.9"/>
<circle cx="514.68" cy="129.2" r="0.95" fill="#3d8a4d" fill-opacity="0.9"/>
<circle cx="519.44" cy="130.06" r="0.95" fill="#3d8a4d" fill-opacity="0.9"/>
<circle cx="519.02" cy="130.57" r="0.95" fill="#3d8a4d" fill-opacity="0.9"/>
<circle cx="514.72" cy="131.94" r="0.95" fill="#3d8a4d" fill-opacity="0.9"/>
<circle cx="519.56" cy="137.11" r="0.95" fill="#3d8a4d" fill-opacity="0.9"/>
<circle cx="520.76" cy="138.67" r="0.95" fill="#3d8a4d" fill-opacity="0.9"/>
<circle cx="515.28" cy="139.9" r="0.95" fill="#3d8a4d" fill-opacity="0.9"/>
<circle cx="519.82" cy="140.19" r="0.95" fill="#3d8a4d" fill-opacity="0.9"/>
<circle cx="519.66" cy="141.24" r="0.95" fill="#3d8a4d" fill-opacity="0.9"/>
<circle cx="515.9" cy="141.92" r="0.95" fill="#3d8a4d" fill-opacity="0.9"/>
<circle cx="515.54" cy="142.75" r="0.95" fill="#3d8a4d" fill-opacity="0.9"/>
<circle cx="517.55" cy="143.17" r="0.95" fill="#3d8a4d" fill-opacity="0.9"/>
<circle cx="518.45" cy="144.77" r="0.95" fill="#3d8a4d" fill-opacity="0.9"/>
<circle cx="515.99" cy="154.91" r="0.95" fill="#3d8a4d" fill-opacity="0.9"/>
<circle cx="515.1" cy="155.38" r="0.95" fill="#3d8a4d" fill-opacity="0.9"/>
<circle cx="517.9" cy="156.6" r="0.95" fill="#3d8a4d" fill-opacity="0.9"/>
<circle cx="519.08" cy="157.43" r="0.95" fill="#3d8a4d" fill-opacity="0.9"/>
<circle cx="517.9" cy="158.95" r="0.95" fill="#3d8a4d" fill-opacity="0.9"/>
<circle cx="516.88" cy="159.8" r="0.95" fill="#3d8a4d" fill-opacity="0.9"/>
<circle cx="518.02" cy="160.47" r="0.95" fill="#3d8a4d" fill-opacity="0.9"/>
<circle cx="515.14" cy="162.01" r="0.95" fill="#3d8a4d" fill-opacity="0.9"/>
<circle cx="515.78" cy="163.02" r="0.95" fill="#3d8a4d" fill-opacity="0.9"/>
<circle cx="519.93" cy="178.26" r="0.95" fill="#3d8a4d" fill-opacity="0.9"/>
<circle cx="519.19" cy="179.44" r="0.95" fill="#3d8a4d" fill-opacity="0.9"/>
<circle cx="520.48" cy="181.24" r="0.95" fill="#3d8a4d" fill-opacity="0.9"/>
<circle cx="515.71" cy="182.95" r="0.95" fill="#3d8a4d" fill-opacity="0.9"/>
<circle cx="517.76" cy="184.09" r="0.95" fill="#3d8a4d" fill-opacity="0.9"/>
<circle cx="574.17" cy="72.08" r="0.95" fill="#a03c40" fill-opacity="0.9"/>
<circle cx="580.68" cy="73.36" r="0.95" fill="#a03c40" fill-opacity="0.9"/>
<circle cx="577.76" cy="74.49" r="0.95" fill="#a03c40" fill-opacity="0.9"/>
<circle cx="577.11" cy="76.52" r="0.95" fill="#a03c40" fill-opacity="0.9"/>
<circle cx="576.2" cy="77.78" r="0.95" fill="#a03c40" fill-opacity="0.9"/>
<circle cx="577.39" cy="78.26" r="0.95" fill="#a03c40" fill-opacity="0.9"/>
<circle cx="580.32" cy="79.59" r="0.95" fill="#a03c40" fill-opacity="0.9"/>
<circle cx="579.71" cy="83.49" r="0.95" fill="#a03c40" fill-opacity="0.9"/>
<circle cx="578.49" cy="85.5" r="0.95" fill="#a03c40" fill-opacity="0.9"/>
<circle cx="578.54" cy="85.86" r="0.95" fill="#a03c40" fill-opacity="0.9"/>
<circle cx="579.82" cy="87.04" r="0.95" fill="#a03c40" fill-opacity="0.9"/>
<circle cx="578.41" cy="88.96" r="0.95" fill="#a03c40" fill-opacity="0.9"/>
<circle cx="577.71" cy="90.94" r="0.95" fill="#a03c40" fill-opacity="0.9"/>
<circle cx="579.53" cy="92.32" r="0.95" fill="#a03c40" fill-opacity="0.9"/>
<circle cx="576.19" cy="93.52" r="0.95" fill="#a03c40" fill-opacity="0.9"/>
<circle cx="577.21" cy="94.89" r="0.95" fill="#a03c40" fill-opacity="0.9"/>
<circle cx="575.99" cy="96.47" r="0.95" fill="#a03c40" fill-opacity="0.9"/>
<circle cx="574.86" cy="97.05" r="0.95" fill="#a03c40" fill-opacity="0.9"/>
<circle cx="576.68" cy="97.94" r="0.95" fill="#a03c40" fill-opacity="0.9"/>
<circle cx="576.27" cy="98.93" r="0.95" fill="#a03c40" fill-opacity="0.9"/>
<circle cx="577.21" cy="99.31" r="0.95" fill="#a03c40" fill-opacity="0.9"/>
<circle cx="577.11" cy="101.1" r="0.95" fill="#a03c40" fill-opacity="0.9"/>
<circle cx="580.18" cy="102.94" r="0.95" fill="#a03c40" fill-opacity="0.9"/>
<circle cx="577.11" cy="103.64" r="0.95" fill="#a03c40" fill-opacity="0.9"/>
<circle cx="580.42" cy="104.43" r="0.95" fill="#a03c40" fill-opacity="0.9"/>
<circle cx="574.78" cy="105.13" r="0.95" fill="#a03c40" fill-opacity="0.9"/>
<circle cx="575.39" cy="106.24" r="0.95" fill="#a03c40" fill-opacity="0.9"/>
<circle cx="576.64" cy="107.7" r="0.95" fill="#a03c40" fill-opacity="0.9"/>
<circle cx="579.51" cy="108.18" r="0.95" fill="#a03c40" fill-opacity="0.9"/>
<circle cx="579.6" cy="110.07" r="0.95" fill="#a03c40" fill-opacity="0.9"/>
<circle cx="576.82" cy="111.48" r="0.95" fill="#a03c40" fill-opacity="0.9"/>
<circle cx="576.43" cy="111.98" r="0.95" fill="#a03c40" fill-opacity="0.9"/>
<circle cx="580.4" cy="112.75" r="0.95" fill="#a03c40" fill-opacity="0.9"/>
<circle cx="578.79" cy="114.76" r="0.95" fill="#a03c40" fill-opacity="0.9"/>
<circle cx="579.15" cy="115.43" r="0.95" fill="#a03c40" fill-opacity="0.9"/>
<circle cx="580.01" cy="116.06" r="0.95" fill="#a03c40" fill-opacity="0.9"/>
<circle cx="579.22" cy="117.12" r="0.95" fill="#a03c40" fill-opacity="0.9"/>
<circle cx="576.08" cy="117.93" r="0.95" fill="#a03c40" fill-opacity="0.9"/>
<circle cx="578.66" cy="119.6" r="0.95" fill="#a03c40" fill-opacity="0.9"/>
<circle cx="576.79" cy="120.41" r="0.95" fill="#a03c40" fill-opacity="0.9"/>
<circle cx="580.61" cy="120.91" r="0.95" fill="#a03c40" fill-opacity="0.9"/>
<circle cx="577.34" cy="123.14" r="0.95" fill="#a03c40" fill-opacity="0.9"/>
<circle cx="575.37" cy="124.43" r="0.95" fill="#a03c40" fill-opacity="0.9"/>
<circle cx="574.96" cy="124.41" r="0.95" fill="#a03c40" fill-opacity="0.9"/>
<circle cx="576.49" cy="125.41" r="0.95" fill="#a03c40" fill-opacity="0.9"/>
<circle cx="580.34" cy="127.12" r="0.95" fill="#a03c40" fill-opacity="0.9"/>
<circle cx="579.28" cy="127.38" r="0.95" fill="#a03c40" fill-opacity="0.9"/>
<circle cx="577.79" cy="128.17" r="0.95" fill="#a03c40" fill-opacity="0.9"/>
<circle cx="579.77" cy="130.38" r="0.95" fill="#a03c40" fill-opacity="0.9"/>
<circle cx="576.04" cy="131.98" r="0.95" fill="#a03c40" fill-opacity="0.9"/>
<circle cx="575.12" cy="133.57" r="0.95" fill="#a03c40" fill-opacity="0.9"/>
<circle cx="580.4" cy="136.36" r="0.95" fill="#a03c40" fill-opacity="0.9"/>
<circle cx="575.07" cy="137.5" r="0.95" fill="#a03c40" fill-opacity="0.9"/>
<circle cx="575.81" cy="140.7" r="0.95" fill="#a03c40" fill-opacity="0.9"/>
<circle cx="575.8" cy="142.65" r="0.95" fill="#a03c40" fill-opacity="0.9"/>
<circle cx="575.78" cy="143.38" r="0.95" fill="#a03c40" fill-opacity="0.9"/>
<circle cx="578.25" cy="145.65" r="0.95" fill="#a03c40" fill-opacity="0.9"/>
<circle cx="576.63" cy="148.19" r="0.95" fill="#a03c40" fill-opacity="0.9"/>
<circle cx="574.52" cy="149.69" r="0.95" fill="#a03c40" fill-opacity="0.9"/>
<circle cx="579.89" cy="152.75" r="0.95" fill="#a03c40" fill-opacity="0.9"/>
<circle cx="579.4" cy="153.93" r="0.95" fill="#a03c40" fill-opacity="0.9"/>
<circle cx="577.66" cy="156.94" r="0.95" fill="#a03c40" fill-opacity="0.9"/>
<circle cx="576.4" cy="158.38" r="0.95" fill="#a03c40" fill-opacity="0.9"/>
<circle cx="578.25" cy="179.28" r="0.95" fill="#a03c40" fill-opacity="0.9"/>
<circle cx="580.88" cy="179.94" r="0.95" fill="#a03c40" fill-opacity="0.9"/>
<circle cx="577.32" cy="181.78" r="0.95" fill="#a03c40" fill-opacity="0.9"/>
<circle cx="576.25" cy="183.65" r="0.95" fill="#a03c40" fill-opacity="0.9"/>
<circle cx="637.66" cy="69.59" r="0.95" fill="#5c4f94" fill-opacity="0.9"/>
<circle cx="637.26" cy="70.2" r="0.95" fill="#5c4f94" fill-opacity="0.9"/>
<circle cx="640.32" cy="70.94" r="0.95" fill="#5c4f94" fill-opacity="0.9"/>
<circle cx="636.69" cy="70.93" r="0.95" fill="#5c4f94" fill-opacity="0.9"/>
<circle cx="637.17" cy="71.23" r="0.95" fill="#5c4f94" fill-opacity="0.9"/>
<circle cx="634.34" cy="72.55" r="0.95" fill="#5c4f94" fill-opacity="0.9"/>
<circle cx="634.47" cy="72.79" r="0.95" fill="#5c4f94" fill-opacity="0.9"/>
<circle cx="638.22" cy="73.43" r="0.95" fill="#5c4f94" fill-opacity="0.9"/>
<circle cx="634.13" cy="73.11" r="0.95" fill="#5c4f94" fill-opacity="0.9"/>
<circle cx="639.03" cy="73.06" r="0.95" fill="#5c4f94" fill-opacity="0.9"/>
<circle cx="634.32" cy="73.74" r="0.95" fill="#5c4f94" fill-opacity="0.9"/>
<circle cx="634.78" cy="73.66" r="0.95" fill="#5c4f94" fill-opacity="0.9"/>
<circle cx="638.15" cy="73.91" r="0.95" fill="#5c4f94" fill-opacity="0.9"/>
<circle cx="640.21" cy="74.63" r="0.95" fill="#5c4f94" fill-opacity="0.9"/>
<circle cx="633.94" cy="75.02" r="0.95" fill="#5c4f94" fill-opacity="0.9"/>
<circle cx="635.24" cy="74.86" r="0.95" fill="#5c4f94" fill-opacity="0.9"/>
<circle cx="637.4" cy="74.85" r="0.95" fill="#5c4f94" fill-opacity="0.9"/>
<circle cx="637.01" cy="75.02" r="0.95" fill="#5c4f94" fill-opacity="0.9"/>
<circle cx="634.96" cy="75.99" r="0.95" fill="#5c4f94" fill-opacity="0.9"/>
<circle cx="639.19" cy="75.74" r="0.95" fill="#5c4f94" fill-opacity="0.9"/>
<circle cx="638.24" cy="76.35" r="0.95" fill="#5c4f94" fill-opacity="0.9"/>
<circle cx="634.55" cy="76.2" r="0.95" fill="#5c4f94" fill-opacity="0.9"/>
<circle cx="634.5" cy="76.13" r="0.95" fill="#5c4f94" fill-opacity="0.9"/>
<circle cx="634.34" cy="76.54" r="0.95" fill="#5c4f94" fill-opacity="0.9"/>
<circle cx="633.96" cy="76.71" r="0.95" fill="#5c4f94" fill-opacity="0.9"/>
<circle cx="636.18" cy="77.27" r="0.95" fill="#5c4f94" fill-opacity="0.9"/>
<circle cx="639.44" cy="77.77" r="0.95" fill="#5c4f94" fill-opacity="0.9"/>
<circle cx="638.48" cy="77.71" r="0.95" fill="#5c4f94" fill-opacity="0.9"/>
<circle cx="639.84" cy="77.56" r="0.95" fill="#5c4f94" fill-opacity="0.9"/>
<circle cx="634.32" cy="78.34" r="0.95" fill="#5c4f94" fill-opacity="0.9"/>
<circle cx="637.86" cy="78.06" r="0.95" fill="#5c4f94" fill-opacity="0.9"/>
<circle cx="636.17" cy="78.35" r="0.95" fill="#5c4f94" fill-opacity="0.9"/>
<circle cx="636.53" cy="78.72" r="0.95" fill="#5c4f94" fill-opacity="0.9"/>
<circle cx="636.31" cy="79.19" r="0.95" fill="#5c4f94" fill-opacity="0.9"/>
<circle cx="639.12" cy="79.24" r="0.95" fill="#5c4f94" fill-opacity="0.9"/>
<circle cx="636.81" cy="79.24" r="0.95" fill="#5c4f94" fill-opacity="0.9"/>
<circle cx="638.8" cy="80.13" r="0.95" fill="#5c4f94" fill-opacity="0.9"/>
<circle cx="635.16" cy="80.07" r="0.95" fill="#5c4f94" fill-opacity="0.9"/>
<circle cx="638.35" cy="80.3" r="0.95" fill="#5c4f94" fill-opacity="0.9"/>
<circle cx="633.81" cy="80.45" r="0.95" fill="#5c4f94" fill-opacity="0.9"/>
<circle cx="634.97" cy="80.24" r="0.95" fill="#5c4f94" fill-opacity="0.9"/>
<circle cx="637.54" cy="80.89" r="0.95" fill="#5c4f94" fill-opacity="0.9"/>
<circle cx="637.85" cy="81.28" r="0.95" fill="#5c4f94" fill-opacity="0.9"/>
<circle cx="638.38" cy="81.27" r="0.95" fill="#5c4f94" fill-opacity="0.9"/>
<circle cx="633.92" cy="81.57" r="0.95" fill="#5c4f94" fill-opacity="0.9"/>
<circle cx="639.2" cy="81.85" r="0.95" fill="#5c4f94" fill-opacity="0.9"/>
<circle cx="637.67" cy="81.51" r="0.95" fill="#5c4f94" fill-opacity="0.9"/>
<circle cx="634.93" cy="81.77" r="0.95" fill="#5c4f94" fill-opacity="0.9"/>
<circle cx="637.92" cy="83.4" r="0.95" fill="#5c4f94" fill-opacity="0.9"/>
<circle cx="634.87" cy="84.65" r="0.95" fill="#5c4f94" fill-opacity="0.9"/>
<circle cx="640.25" cy="86.36" r="0.95" fill="#5c4f94" fill-opacity="0.9"/>
<circle cx="636.75" cy="87.1" r="0.95" fill="#5c4f94" fill-opacity="0.9"/>
<circle cx="635.02" cy="88.75" r="0.95" fill="#5c4f94" fill-opacity="0.9"/>
<circle cx="638.37" cy="88.59" r="0.95" fill="#5c4f94" fill-opacity="0.9"/>
<circle cx="639.74" cy="90.54" r="0.95" fill="#5c4f94" fill-opacity="0.9"/>
<circle cx="636.41" cy="91.46" r="0.95" fill="#5c4f94" fill-opacity="0.9"/>
<circle cx="638.5" cy="92.02" r="0.95" fill="#5c4f94" fill-opacity="0.9"/>
<circle cx="638.08" cy="98.3" r="0.95" fill="#5c4f94" fill-opacity="0.9"/>
<circle cx="638.38" cy="98.62" r="0.95" fill="#5c4f94" fill-opacity="0.9"/>
<circle cx="639.79" cy="148.77" r="0.95" fill="#5c4f94" fill-opacity="0.9"/>
<circle cx="635.87" cy="149.33" r="0.95" fill="#5c4f94" fill-opacity="0.9"/>
<line x1="399" y1="84" x2="399" y2="127.3" stroke="#111" stroke-width="1.15" />
<line x1="399" y1="184.7" x2="399" y2="219.8" stroke="#111" stroke-width="1.15" />
<line x1="392.2" y1="84" x2="405.8" y2="84" stroke="#111" stroke-width="1.3499999999999999" />
<line x1="392.2" y1="219.8" x2="405.8" y2="219.8" stroke="#111" stroke-width="1.3499999999999999" />
<line x1="385.4" y1="159.2" x2="412.6" y2="159.2" stroke="#111" stroke-width="1.3499999999999999" />
<line x1="458.5" y1="109.5" x2="458.5" y2="118.2" stroke="#111" stroke-width="1.15" />
<line x1="458.5" y1="131.3" x2="458.5" y2="149" stroke="#111" stroke-width="1.15" />
<line x1="451.7" y1="109.5" x2="465.3" y2="109.5" stroke="#111" stroke-width="1.3499999999999999" />
<line x1="451.7" y1="149" x2="465.3" y2="149" stroke="#111" stroke-width="1.3499999999999999" />
<line x1="444.9" y1="124.5" x2="472.1" y2="124.5" stroke="#111" stroke-width="1.3499999999999999" />
<line x1="518" y1="81.5" x2="518" y2="105.3" stroke="#111" stroke-width="1.15" />
<line x1="518" y1="147.5" x2="518" y2="188" stroke="#111" stroke-width="1.15" />
<line x1="511.2" y1="81.5" x2="524.8" y2="81.5" stroke="#111" stroke-width="1.3499999999999999" />
<line x1="511.2" y1="188" x2="524.8" y2="188" stroke="#111" stroke-width="1.3499999999999999" />
<line x1="504.4" y1="119.7" x2="531.6" y2="119.7" stroke="#111" stroke-width="1.3499999999999999" />
<line x1="577.5" y1="72" x2="577.5" y2="92.3" stroke="#111" stroke-width="1.15" />
<line x1="577.5" y1="130.5" x2="577.5" y2="183.8" stroke="#111" stroke-width="1.15" />
<line x1="570.7" y1="72" x2="584.3" y2="72" stroke="#111" stroke-width="1.3499999999999999" />
<line x1="570.7" y1="183.8" x2="584.3" y2="183.8" stroke="#111" stroke-width="1.3499999999999999" />
<line x1="563.9" y1="107.2" x2="591.1" y2="107.2" stroke="#111" stroke-width="1.3499999999999999" />
<line x1="637" y1="69" x2="637" y2="73.1" stroke="#111" stroke-width="1.15" />
<line x1="637" y1="82.2" x2="637" y2="93" stroke="#111" stroke-width="1.15" />
<line x1="630.2" y1="69" x2="643.8" y2="69" stroke="#111" stroke-width="1.3499999999999999" />
<line x1="630.2" y1="93" x2="643.8" y2="93" stroke="#111" stroke-width="1.3499999999999999" />
<line x1="623.4" y1="76.8" x2="650.6" y2="76.8" stroke="#111" stroke-width="1.3499999999999999" />
<text x="382" y="68.9" font-size="10" text-anchor="start" font-weight="bold" fill="#262626" >(b)</text>
<text x="417" y="250.4" font-size="10" text-anchor="middle" font-weight="normal" fill="#262626" >Cmprh.</text>
<text x="476.5" y="250.4" font-size="10" text-anchor="middle" font-weight="normal" fill="#262626" >Correct</text>
<text x="536" y="250.4" font-size="10" text-anchor="middle" font-weight="normal" fill="#262626" >Useful</text>
<text x="595.5" y="250.4" font-size="10" text-anchor="middle" font-weight="normal" fill="#262626" >Explnb.</text>
<text x="655" y="250.4" font-size="10" text-anchor="middle" font-weight="normal" fill="#262626" >Safe</text>
<line x1="35.6" y1="418.76" x2="684.4" y2="418.76" stroke="#c2c2c2" stroke-width="0.85" />
<line x1="35.6" y1="385.52" x2="684.4" y2="385.52" stroke="#c2c2c2" stroke-width="0.85" />
<line x1="35.6" y1="352.28" x2="684.4" y2="352.28" stroke="#c2c2c2" stroke-width="0.85" />
<line x1="35.6" y1="319.04" x2="684.4" y2="319.04" stroke="#c2c2c2" stroke-width="0.85" />
<line x1="35.6" y1="285.8" x2="684.4" y2="285.8" stroke="#c2c2c2" stroke-width="0.85" />
<rect x="35.6" y="270.6" width="648.8" height="181.4" fill="none" stroke="#cccccc" stroke-width="1"/>
<text x="27.6" y="455.8" font-size="10" text-anchor="end" font-weight="normal" fill="#262626" >0.0</text>
<text x="27.6" y="422.56" font-size="10" text-anchor="end" font-weight="normal" fill="#262626" >0.2</text>
<text x="27.6" y="389.32" font-size="10" text-anchor="end" font-weight="normal" fill="#262626" >0.4</text>
<text x="27.6" y="356.08" font-size="10" text-anchor="end" font-weight="normal" fill="#262626" >0.6</text>
<text x="27.6" y="322.84" font-size="10" text-anchor="end" font-weight="normal" fill="#262626" >0.8</text>
<text x="27.6" y="289.6" font-size="10" text-anchor="end" font-weight="normal" fill="#262626" >1.0</text>
<line x1="165.36" y1="271.1" x2="165.36" y2="452" stroke="#4a4a4a" stroke-width="1.05" stroke-dasharray="1.2 1.75"/>
<line x1="295.12" y1="271.1" x2="295.12" y2="452" stroke="#4a4a4a" stroke-width="1.05" stroke-dasharray="1.2 1.75"/>
<line x1="424.88" y1="271.1" x2="424.88" y2="452" stroke="#4a4a4a" stroke-width="1.05" stroke-dasharray="1.2 1.75"/>
<line x1="554.64" y1="271.1" x2="554.64" y2="452" stroke="#4a4a4a" stroke-width="1.05" stroke-dasharray="1.2 1.75"/>
<text x="48.6" y="286.9" font-size="10" text-anchor="start" font-weight="bold" fill="#262626" >(c)</text>
<rect x="49.28" y="418.76" width="13.43" height="33.24" fill="#0c70a7" />
<rect x="64.11" y="406.3" width="13.43" height="45.7" fill="#d18b12" />
<rect x="78.94" y="383.03" width="13.43" height="68.97" fill="#0b956f" />
<rect x="93.77" y="378.37" width="13.43" height="73.63" fill="#c8600d" />
<rect x="108.59" y="372.22" width="13.43" height="79.78" fill="#c77db9" />
<rect x="123.42" y="340.98" width="13.43" height="111.02" fill="#c49267" />
<rect x="138.25" y="310.73" width="13.43" height="141.27" fill="#f6b4e2" />
<text x="100.48" y="468" font-size="10" text-anchor="middle" font-weight="normal" fill="#262626" >Cmprh.</text>
<rect x="179.04" y="352.28" width="13.43" height="99.72" fill="#0c70a7" />
<rect x="193.87" y="366.07" width="13.43" height="85.93" fill="#d18b12" />
<rect x="208.7" y="339.81" width="13.43" height="112.19" fill="#0b956f" />
<rect x="223.53" y="343.14" width="13.43" height="108.86" fill="#c8600d" />
<rect x="238.35" y="337.65" width="13.43" height="114.35" fill="#c77db9" />
<rect x="253.18" y="343.97" width="13.43" height="108.03" fill="#c49267" />
<rect x="268.01" y="330.67" width="13.43" height="121.33" fill="#f6b4e2" />
<text x="230.24" y="468" font-size="10" text-anchor="middle" font-weight="normal" fill="#262626" >Correct</text>
<rect x="308.8" y="373.06" width="13.43" height="78.94" fill="#0c70a7" />
<rect x="323.63" y="380.53" width="13.43" height="71.47" fill="#d18b12" />
<rect x="338.46" y="354.77" width="13.43" height="97.23" fill="#0b956f" />
<rect x="353.29" y="337.32" width="13.43" height="114.68" fill="#c8600d" />
<rect x="368.11" y="335.66" width="13.43" height="116.34" fill="#c77db9" />
<rect x="382.94" y="321.53" width="13.43" height="130.47" fill="#c49267" />
<rect x="397.77" y="304.91" width="13.43" height="147.09" fill="#f6b4e2" />
<text x="360" y="468" font-size="10" text-anchor="middle" font-weight="normal" fill="#262626" >Useful</text>
<rect x="438.56" y="365.58" width="13.43" height="86.42" fill="#0c70a7" />
<rect x="453.39" y="364.25" width="13.43" height="87.75" fill="#d18b12" />
<rect x="468.22" y="344.8" width="13.43" height="107.2" fill="#0b956f" />
<rect x="483.05" y="324.86" width="13.43" height="127.14" fill="#c8600d" />
<rect x="497.87" y="319.04" width="13.43" height="132.96" fill="#c77db9" />
<rect x="512.7" y="314.05" width="13.43" height="137.95" fill="#c49267" />
<rect x="527.53" y="296.6" width="13.43" height="155.4" fill="#f6b4e2" />
<text x="489.76" y="468" font-size="10" text-anchor="middle" font-weight="normal" fill="#262626" >Explnb.</text>
<rect x="568.32" y="302.09" width="13.43" height="149.91" fill="#0c70a7" />
<rect x="583.15" y="304.91" width="13.43" height="147.09" fill="#d18b12" />
<rect x="597.98" y="311.06" width="13.43" height="140.94" fill="#0b956f" />
<rect x="612.81" y="290.62" width="13.43" height="161.38" fill="#c8600d" />
<rect x="627.63" y="292.45" width="13.43" height="159.55" fill="#c77db9" />
<rect x="642.46" y="292.78" width="13.43" height="159.22" fill="#c49267" />
<rect x="657.29" y="288.29" width="13.43" height="163.71" fill="#f6b4e2" />
<text x="619.52" y="468" font-size="10" text-anchor="middle" font-weight="normal" fill="#262626" >Safe</text>
<line x1="55.99" y1="403.6" x2="55.99" y2="434" stroke="#222" stroke-width="0.9" />
<line x1="53.99" y1="403.6" x2="57.99" y2="403.6" stroke="#222" stroke-width="0.9" />
<line x1="53.99" y1="434" x2="57.99" y2="434" stroke="#222" stroke-width="0.9" />
<circle cx="57.09" cy="396" r="2.25" fill="#0c70a7" stroke="#1a1a1a" stroke-width="0.75"/>
<circle cx="56.82" cy="407.6" r="2.25" fill="#0c70a7" stroke="#1a1a1a" stroke-width="0.75"/>
<circle cx="55.74" cy="422" r="2.25" fill="#0c70a7" stroke="#1a1a1a" stroke-width="0.75"/>
<circle cx="55.22" cy="432" r="2.25" fill="#0c70a7" stroke="#1a1a1a" stroke-width="0.75"/>
<circle cx="56.03" cy="437.6" r="2.25" fill="#0c70a7" stroke="#1a1a1a" stroke-width="0.75"/>
<line x1="70.82" y1="392" x2="70.82" y2="420.6" stroke="#222" stroke-width="0.9" />
<line x1="68.82" y1="392" x2="72.82" y2="392" stroke="#222" stroke-width="0.9" />
<line x1="68.82" y1="420.6" x2="72.82" y2="420.6" stroke="#222" stroke-width="0.9" />
<circle cx="69.65" cy="388" r="2.25" fill="#d18b12" stroke="#1a1a1a" stroke-width="0.75"/>
<circle cx="71.93" cy="391" r="2.25" fill="#d18b12" stroke="#1a1a1a" stroke-width="0.75"/>
<circle cx="71.66" cy="398" r="2.25" fill="#d18b12" stroke="#1a1a1a" stroke-width="0.75"/>
<circle cx="70.04" cy="403.6" r="2.25" fill="#d18b12" stroke="#1a1a1a" stroke-width="0.75"/>
<circle cx="70.81" cy="416.4" r="2.25" fill="#d18b12" stroke="#1a1a1a" stroke-width="0.75"/>
<circle cx="70.66" cy="425.6" r="2.25" fill="#d18b12" stroke="#1a1a1a" stroke-width="0.75"/>
<line x1="85.65" y1="352" x2="85.65" y2="414" stroke="#222" stroke-width="0.9" />
<line x1="83.65" y1="352" x2="87.65" y2="352" stroke="#222" stroke-width="0.9" />
<line x1="83.65" y1="414" x2="87.65" y2="414" stroke="#222" stroke-width="0.9" />
<circle cx="87.11" cy="349.6" r="2.25" fill="#0b956f" stroke="#1a1a1a" stroke-width="0.75"/>
<circle cx="87.08" cy="352" r="2.25" fill="#0b956f" stroke="#1a1a1a" stroke-width="0.75"/>
<circle cx="84.23" cy="357.6" r="2.25" fill="#0b956f" stroke="#1a1a1a" stroke-width="0.75"/>
<circle cx="84.32" cy="379.6" r="2.25" fill="#0b956f" stroke="#1a1a1a" stroke-width="0.75"/>
<circle cx="86.72" cy="388" r="2.25" fill="#0b956f" stroke="#1a1a1a" stroke-width="0.75"/>
<circle cx="86.41" cy="437.4" r="2.25" fill="#0b956f" stroke="#1a1a1a" stroke-width="0.75"/>
<line x1="100.48" y1="351" x2="100.48" y2="406" stroke="#222" stroke-width="0.9" />
<line x1="98.48" y1="351" x2="102.48" y2="351" stroke="#222" stroke-width="0.9" />
<line x1="98.48" y1="406" x2="102.48" y2="406" stroke="#222" stroke-width="0.9" />
<circle cx="99.64" cy="343" r="2.25" fill="#c8600d" stroke="#1a1a1a" stroke-width="0.75"/>
<circle cx="100.62" cy="345" r="2.25" fill="#c8600d" stroke="#1a1a1a" stroke-width="0.75"/>
<circle cx="100.06" cy="349" r="2.25" fill="#c8600d" stroke="#1a1a1a" stroke-width="0.75"/>
<circle cx="100.81" cy="383.6" r="2.25" fill="#c8600d" stroke="#1a1a1a" stroke-width="0.75"/>
<circle cx="100.88" cy="394.4" r="2.25" fill="#c8600d" stroke="#1a1a1a" stroke-width="0.75"/>
<circle cx="99.09" cy="418.4" r="2.25" fill="#c8600d" stroke="#1a1a1a" stroke-width="0.75"/>
<line x1="115.31" y1="366" x2="115.31" y2="380" stroke="#222" stroke-width="0.9" />
<line x1="113.31" y1="366" x2="117.31" y2="366" stroke="#222" stroke-width="0.9" />
<line x1="113.31" y1="380" x2="117.31" y2="380" stroke="#222" stroke-width="0.9" />
<circle cx="114.47" cy="361" r="2.25" fill="#c77db9" stroke="#1a1a1a" stroke-width="0.75"/>
<circle cx="114.04" cy="365" r="2.25" fill="#c77db9" stroke="#1a1a1a" stroke-width="0.75"/>
<circle cx="114.98" cy="370" r="2.25" fill="#c77db9" stroke="#1a1a1a" stroke-width="0.75"/>
<circle cx="114.21" cy="376" r="2.25" fill="#c77db9" stroke="#1a1a1a" stroke-width="0.75"/>
<circle cx="113.92" cy="379" r="2.25" fill="#c77db9" stroke="#1a1a1a" stroke-width="0.75"/>
<circle cx="114.99" cy="385" r="2.25" fill="#c77db9" stroke="#1a1a1a" stroke-width="0.75"/>
<line x1="130.14" y1="330" x2="130.14" y2="352" stroke="#222" stroke-width="0.9" />
<line x1="128.14" y1="330" x2="132.14" y2="330" stroke="#222" stroke-width="0.9" />
<line x1="128.14" y1="352" x2="132.14" y2="352" stroke="#222" stroke-width="0.9" />
<circle cx="130.53" cy="328" r="2.25" fill="#c49267" stroke="#1a1a1a" stroke-width="0.75"/>
<circle cx="130.91" cy="331" r="2.25" fill="#c49267" stroke="#1a1a1a" stroke-width="0.75"/>
<circle cx="131.08" cy="334" r="2.25" fill="#c49267" stroke="#1a1a1a" stroke-width="0.75"/>
<circle cx="131.56" cy="337" r="2.25" fill="#c49267" stroke="#1a1a1a" stroke-width="0.75"/>
<circle cx="130.91" cy="340" r="2.25" fill="#c49267" stroke="#1a1a1a" stroke-width="0.75"/>
<circle cx="131.49" cy="343" r="2.25" fill="#c49267" stroke="#1a1a1a" stroke-width="0.75"/>
<circle cx="128.63" cy="347" r="2.25" fill="#c49267" stroke="#1a1a1a" stroke-width="0.75"/>
<circle cx="130.03" cy="350" r="2.25" fill="#c49267" stroke="#1a1a1a" stroke-width="0.75"/>
<circle cx="131.56" cy="354" r="2.25" fill="#c49267" stroke="#1a1a1a" stroke-width="0.75"/>
<line x1="144.97" y1="303" x2="144.97" y2="322" stroke="#222" stroke-width="0.9" />
<line x1="142.97" y1="303" x2="146.97" y2="303" stroke="#222" stroke-width="0.9" />
<line x1="142.97" y1="322" x2="146.97" y2="322" stroke="#222" stroke-width="0.9" />
<circle cx="145.91" cy="301" r="2.25" fill="#f6b4e2" stroke="#1a1a1a" stroke-width="0.75"/>
<circle cx="146" cy="303" r="2.25" fill="#f6b4e2" stroke="#1a1a1a" stroke-width="0.75"/>
<circle cx="144.92" cy="305" r="2.25" fill="#f6b4e2" stroke="#1a1a1a" stroke-width="0.75"/>
<circle cx="144.21" cy="320" r="2.25" fill="#f6b4e2" stroke="#1a1a1a" stroke-width="0.75"/>
<circle cx="143.37" cy="322.4" r="2.25" fill="#f6b4e2" stroke="#1a1a1a" stroke-width="0.75"/>
<circle cx="145.49" cy="325" r="2.25" fill="#f6b4e2" stroke="#1a1a1a" stroke-width="0.75"/>
<line x1="185.75" y1="338" x2="185.75" y2="362" stroke="#222" stroke-width="0.9" />
<line x1="183.75" y1="338" x2="187.75" y2="338" stroke="#222" stroke-width="0.9" />
<line x1="183.75" y1="362" x2="187.75" y2="362" stroke="#222" stroke-width="0.9" />
<circle cx="185.98" cy="336" r="2.25" fill="#0c70a7" stroke="#1a1a1a" stroke-width="0.75"/>
<circle cx="185.52" cy="340" r="2.25" fill="#0c70a7" stroke="#1a1a1a" stroke-width="0.75"/>
<circle cx="186" cy="346" r="2.25" fill="#0c70a7" stroke="#1a1a1a" stroke-width="0.75"/>
<circle cx="184.81" cy="352" r="2.25" fill="#0c70a7" stroke="#1a1a1a" stroke-width="0.75"/>
<circle cx="186.75" cy="358" r="2.25" fill="#0c70a7" stroke="#1a1a1a" stroke-width="0.75"/>
<circle cx="186.79" cy="366" r="2.25" fill="#0c70a7" stroke="#1a1a1a" stroke-width="0.75"/>
<line x1="200.58" y1="351" x2="200.58" y2="381" stroke="#222" stroke-width="0.9" />
<line x1="198.58" y1="351" x2="202.58" y2="351" stroke="#222" stroke-width="0.9" />
<line x1="198.58" y1="381" x2="202.58" y2="381" stroke="#222" stroke-width="0.9" />
<circle cx="200.43" cy="351" r="2.25" fill="#d18b12" stroke="#1a1a1a" stroke-width="0.75"/>
<circle cx="200.77" cy="355" r="2.25" fill="#d18b12" stroke="#1a1a1a" stroke-width="0.75"/>
<circle cx="201.94" cy="358" r="2.25" fill="#d18b12" stroke="#1a1a1a" stroke-width="0.75"/>
<circle cx="200.47" cy="379" r="2.25" fill="#d18b12" stroke="#1a1a1a" stroke-width="0.75"/>
<circle cx="200.61" cy="384.6" r="2.25" fill="#d18b12" stroke="#1a1a1a" stroke-width="0.75"/>
<line x1="215.41" y1="337" x2="215.41" y2="342" stroke="#222" stroke-width="0.9" />
<line x1="213.41" y1="337" x2="217.41" y2="337" stroke="#222" stroke-width="0.9" />
<line x1="213.41" y1="342" x2="217.41" y2="342" stroke="#222" stroke-width="0.9" />
<circle cx="215.33" cy="337.4" r="2.25" fill="#0b956f" stroke="#1a1a1a" stroke-width="0.75"/>
<circle cx="215.91" cy="339" r="2.25" fill="#0b956f" stroke="#1a1a1a" stroke-width="0.75"/>
<circle cx="215.94" cy="342" r="2.25" fill="#0b956f" stroke="#1a1a1a" stroke-width="0.75"/>
<line x1="230.24" y1="337" x2="230.24" y2="346" stroke="#222" stroke-width="0.9" />
<line x1="228.24" y1="337" x2="232.24" y2="337" stroke="#222" stroke-width="0.9" />
<line x1="228.24" y1="346" x2="232.24" y2="346" stroke="#222" stroke-width="0.9" />
<circle cx="229.47" cy="335.4" r="2.25" fill="#c8600d" stroke="#1a1a1a" stroke-width="0.75"/>
<circle cx="230.83" cy="341" r="2.25" fill="#c8600d" stroke="#1a1a1a" stroke-width="0.75"/>
<circle cx="230.83" cy="346" r="2.25" fill="#c8600d" stroke="#1a1a1a" stroke-width="0.75"/>
<line x1="245.07" y1="331" x2="245.07" y2="345" stroke="#222" stroke-width="0.9" />
<line x1="243.07" y1="331" x2="247.07" y2="331" stroke="#222" stroke-width="0.9" />
<line x1="243.07" y1="345" x2="247.07" y2="345" stroke="#222" stroke-width="0.9" />
<circle cx="243.81" cy="331" r="2.25" fill="#c77db9" stroke="#1a1a1a" stroke-width="0.75"/>
<circle cx="245.72" cy="334" r="2.25" fill="#c77db9" stroke="#1a1a1a" stroke-width="0.75"/>
<circle cx="245.56" cy="338" r="2.25" fill="#c77db9" stroke="#1a1a1a" stroke-width="0.75"/>
<circle cx="246.48" cy="341" r="2.25" fill="#c77db9" stroke="#1a1a1a" stroke-width="0.75"/>
<circle cx="244.34" cy="343" r="2.25" fill="#c77db9" stroke="#1a1a1a" stroke-width="0.75"/>
<line x1="259.9" y1="335" x2="259.9" y2="353" stroke="#222" stroke-width="0.9" />
<line x1="257.9" y1="335" x2="261.9" y2="335" stroke="#222" stroke-width="0.9" />
<line x1="257.9" y1="353" x2="261.9" y2="353" stroke="#222" stroke-width="0.9" />
<circle cx="261.39" cy="334" r="2.25" fill="#c49267" stroke="#1a1a1a" stroke-width="0.75"/>
<circle cx="258.34" cy="338" r="2.25" fill="#c49267" stroke="#1a1a1a" stroke-width="0.75"/>
<circle cx="260.65" cy="343" r="2.25" fill="#c49267" stroke="#1a1a1a" stroke-width="0.75"/>
<circle cx="258.81" cy="347" r="2.25" fill="#c49267" stroke="#1a1a1a" stroke-width="0.75"/>
<circle cx="261.46" cy="349" r="2.25" fill="#c49267" stroke="#1a1a1a" stroke-width="0.75"/>
<line x1="274.73" y1="327" x2="274.73" y2="336" stroke="#222" stroke-width="0.9" />
<line x1="272.73" y1="327" x2="276.73" y2="327" stroke="#222" stroke-width="0.9" />
<line x1="272.73" y1="336" x2="276.73" y2="336" stroke="#222" stroke-width="0.9" />
<circle cx="274.29" cy="326" r="2.25" fill="#f6b4e2" stroke="#1a1a1a" stroke-width="0.75"/>
<circle cx="274.67" cy="329" r="2.25" fill="#f6b4e2" stroke="#1a1a1a" stroke-width="0.75"/>
<circle cx="274.46" cy="332" r="2.25" fill="#f6b4e2" stroke="#1a1a1a" stroke-width="0.75"/>
<circle cx="274.56" cy="336" r="2.25" fill="#f6b4e2" stroke="#1a1a1a" stroke-width="0.75"/>
<line x1="315.51" y1="355.4" x2="315.51" y2="388.4" stroke="#222" stroke-width="0.9" />
<line x1="313.51" y1="355.4" x2="317.51" y2="355.4" stroke="#222" stroke-width="0.9" />
<line x1="313.51" y1="388.4" x2="317.51" y2="388.4" stroke="#222" stroke-width="0.9" />
<circle cx="316.81" cy="350" r="2.25" fill="#0c70a7" stroke="#1a1a1a" stroke-width="0.75"/>
<circle cx="316.11" cy="361.4" r="2.25" fill="#0c70a7" stroke="#1a1a1a" stroke-width="0.75"/>
<circle cx="316.36" cy="373" r="2.25" fill="#0c70a7" stroke="#1a1a1a" stroke-width="0.75"/>
<circle cx="316.81" cy="377" r="2.25" fill="#0c70a7" stroke="#1a1a1a" stroke-width="0.75"/>
<circle cx="314.74" cy="380" r="2.25" fill="#0c70a7" stroke="#1a1a1a" stroke-width="0.75"/>
<circle cx="315.95" cy="398" r="2.25" fill="#0c70a7" stroke="#1a1a1a" stroke-width="0.75"/>
<line x1="330.34" y1="366" x2="330.34" y2="393.6" stroke="#222" stroke-width="0.9" />
<line x1="328.34" y1="366" x2="332.34" y2="366" stroke="#222" stroke-width="0.9" />
<line x1="328.34" y1="393.6" x2="332.34" y2="393.6" stroke="#222" stroke-width="0.9" />
<circle cx="329.27" cy="365.6" r="2.25" fill="#d18b12" stroke="#1a1a1a" stroke-width="0.75"/>
<circle cx="330.95" cy="368" r="2.25" fill="#d18b12" stroke="#1a1a1a" stroke-width="0.75"/>
<circle cx="330.77" cy="374" r="2.25" fill="#d18b12" stroke="#1a1a1a" stroke-width="0.75"/>
<circle cx="330.27" cy="378" r="2.25" fill="#d18b12" stroke="#1a1a1a" stroke-width="0.75"/>
<circle cx="329.43" cy="405" r="2.25" fill="#d18b12" stroke="#1a1a1a" stroke-width="0.75"/>
<line x1="345.17" y1="329.4" x2="345.17" y2="380.6" stroke="#222" stroke-width="0.9" />
<line x1="343.17" y1="329.4" x2="347.17" y2="329.4" stroke="#222" stroke-width="0.9" />
<line x1="343.17" y1="380.6" x2="347.17" y2="380.6" stroke="#222" stroke-width="0.9" />
<circle cx="346.64" cy="336" r="2.25" fill="#0b956f" stroke="#1a1a1a" stroke-width="0.75"/>
<circle cx="344.02" cy="338" r="2.25" fill="#0b956f" stroke="#1a1a1a" stroke-width="0.75"/>
<circle cx="343.65" cy="344.6" r="2.25" fill="#0b956f" stroke="#1a1a1a" stroke-width="0.75"/>
<circle cx="346.77" cy="355.6" r="2.25" fill="#0b956f" stroke="#1a1a1a" stroke-width="0.75"/>
<circle cx="344.16" cy="403" r="2.25" fill="#0b956f" stroke="#1a1a1a" stroke-width="0.75"/>
<line x1="360" y1="323" x2="360" y2="351.4" stroke="#222" stroke-width="0.9" />
<line x1="358" y1="323" x2="362" y2="323" stroke="#222" stroke-width="0.9" />
<line x1="358" y1="351.4" x2="362" y2="351.4" stroke="#222" stroke-width="0.9" />
<circle cx="361.36" cy="323" r="2.25" fill="#c8600d" stroke="#1a1a1a" stroke-width="0.75"/>
<circle cx="361.44" cy="325" r="2.25" fill="#c8600d" stroke="#1a1a1a" stroke-width="0.75"/>
<circle cx="361.26" cy="335" r="2.25" fill="#c8600d" stroke="#1a1a1a" stroke-width="0.75"/>
<circle cx="358.67" cy="341" r="2.25" fill="#c8600d" stroke="#1a1a1a" stroke-width="0.75"/>
<circle cx="360.29" cy="361" r="2.25" fill="#c8600d" stroke="#1a1a1a" stroke-width="0.75"/>
<line x1="374.83" y1="326" x2="374.83" y2="345" stroke="#222" stroke-width="0.9" />
<line x1="372.83" y1="326" x2="376.83" y2="326" stroke="#222" stroke-width="0.9" />
<line x1="372.83" y1="345" x2="376.83" y2="345" stroke="#222" stroke-width="0.9" />
<circle cx="375.51" cy="326" r="2.25" fill="#c77db9" stroke="#1a1a1a" stroke-width="0.75"/>
<circle cx="375.92" cy="329" r="2.25" fill="#c77db9" stroke="#1a1a1a" stroke-width="0.75"/>
<circle cx="373.81" cy="333" r="2.25" fill="#c77db9" stroke="#1a1a1a" stroke-width="0.75"/>
<circle cx="376.42" cy="340" r="2.25" fill="#c77db9" stroke="#1a1a1a" stroke-width="0.75"/>
<circle cx="373.85" cy="344" r="2.25" fill="#c77db9" stroke="#1a1a1a" stroke-width="0.75"/>
<circle cx="375.38" cy="347" r="2.25" fill="#c77db9" stroke="#1a1a1a" stroke-width="0.75"/>
<line x1="389.66" y1="318" x2="389.66" y2="327" stroke="#222" stroke-width="0.9" />
<line x1="387.66" y1="318" x2="391.66" y2="318" stroke="#222" stroke-width="0.9" />
<line x1="387.66" y1="327" x2="391.66" y2="327" stroke="#222" stroke-width="0.9" />
<circle cx="389.27" cy="317.4" r="2.25" fill="#c49267" stroke="#1a1a1a" stroke-width="0.75"/>
<circle cx="391.03" cy="320" r="2.25" fill="#c49267" stroke="#1a1a1a" stroke-width="0.75"/>
<circle cx="390.76" cy="323" r="2.25" fill="#c49267" stroke="#1a1a1a" stroke-width="0.75"/>
<circle cx="388.74" cy="326" r="2.25" fill="#c49267" stroke="#1a1a1a" stroke-width="0.75"/>
<circle cx="390.85" cy="328.6" r="2.25" fill="#c49267" stroke="#1a1a1a" stroke-width="0.75"/>
<line x1="404.49" y1="299" x2="404.49" y2="310" stroke="#222" stroke-width="0.9" />
<line x1="402.49" y1="299" x2="406.49" y2="299" stroke="#222" stroke-width="0.9" />
<line x1="402.49" y1="310" x2="406.49" y2="310" stroke="#222" stroke-width="0.9" />
<circle cx="405.28" cy="298" r="2.25" fill="#f6b4e2" stroke="#1a1a1a" stroke-width="0.75"/>
<circle cx="403.54" cy="300" r="2.25" fill="#f6b4e2" stroke="#1a1a1a" stroke-width="0.75"/>
<circle cx="403.55" cy="309" r="2.25" fill="#f6b4e2" stroke="#1a1a1a" stroke-width="0.75"/>
<circle cx="404.81" cy="312" r="2.25" fill="#f6b4e2" stroke="#1a1a1a" stroke-width="0.75"/>
<line x1="445.27" y1="342" x2="445.27" y2="386.4" stroke="#222" stroke-width="0.9" />
<line x1="443.27" y1="342" x2="447.27" y2="342" stroke="#222" stroke-width="0.9" />
<line x1="443.27" y1="386.4" x2="447.27" y2="386.4" stroke="#222" stroke-width="0.9" />
<circle cx="445.4" cy="340" r="2.25" fill="#0c70a7" stroke="#1a1a1a" stroke-width="0.75"/>
<circle cx="444.6" cy="342" r="2.25" fill="#0c70a7" stroke="#1a1a1a" stroke-width="0.75"/>
<circle cx="443.77" cy="344" r="2.25" fill="#0c70a7" stroke="#1a1a1a" stroke-width="0.75"/>
<circle cx="445.76" cy="369" r="2.25" fill="#0c70a7" stroke="#1a1a1a" stroke-width="0.75"/>
<circle cx="444.34" cy="374.6" r="2.25" fill="#0c70a7" stroke="#1a1a1a" stroke-width="0.75"/>
<circle cx="444.49" cy="396" r="2.25" fill="#0c70a7" stroke="#1a1a1a" stroke-width="0.75"/>
<line x1="460.1" y1="347" x2="460.1" y2="381.4" stroke="#222" stroke-width="0.9" />
<line x1="458.1" y1="347" x2="462.1" y2="347" stroke="#222" stroke-width="0.9" />
<line x1="458.1" y1="381.4" x2="462.1" y2="381.4" stroke="#222" stroke-width="0.9" />
<circle cx="458.54" cy="346.6" r="2.25" fill="#d18b12" stroke="#1a1a1a" stroke-width="0.75"/>
<circle cx="458.86" cy="349" r="2.25" fill="#d18b12" stroke="#1a1a1a" stroke-width="0.75"/>
<circle cx="459.76" cy="360.6" r="2.25" fill="#d18b12" stroke="#1a1a1a" stroke-width="0.75"/>
<circle cx="460.69" cy="364" r="2.25" fill="#d18b12" stroke="#1a1a1a" stroke-width="0.75"/>
<circle cx="458.94" cy="366" r="2.25" fill="#d18b12" stroke="#1a1a1a" stroke-width="0.75"/>
<circle cx="458.86" cy="395" r="2.25" fill="#d18b12" stroke="#1a1a1a" stroke-width="0.75"/>
<line x1="474.93" y1="313.6" x2="474.93" y2="373.4" stroke="#222" stroke-width="0.9" />
<line x1="472.93" y1="313.6" x2="476.93" y2="313.6" stroke="#222" stroke-width="0.9" />
<line x1="472.93" y1="373.4" x2="476.93" y2="373.4" stroke="#222" stroke-width="0.9" />
<circle cx="473.58" cy="324.6" r="2.25" fill="#0b956f" stroke="#1a1a1a" stroke-width="0.75"/>
<circle cx="474.01" cy="327" r="2.25" fill="#0b956f" stroke="#1a1a1a" stroke-width="0.75"/>
<circle cx="474.3" cy="329" r="2.25" fill="#0b956f" stroke="#1a1a1a" stroke-width="0.75"/>
<circle cx="476.21" cy="332" r="2.25" fill="#0b956f" stroke="#1a1a1a" stroke-width="0.75"/>
<circle cx="474.92" cy="336" r="2.25" fill="#0b956f" stroke="#1a1a1a" stroke-width="0.75"/>
<circle cx="475.64" cy="401" r="2.25" fill="#0b956f" stroke="#1a1a1a" stroke-width="0.75"/>
<line x1="489.76" y1="306" x2="489.76" y2="341" stroke="#222" stroke-width="0.9" />
<line x1="487.76" y1="306" x2="491.76" y2="306" stroke="#222" stroke-width="0.9" />
<line x1="487.76" y1="341" x2="491.76" y2="341" stroke="#222" stroke-width="0.9" />
<circle cx="489.99" cy="306" r="2.25" fill="#c8600d" stroke="#1a1a1a" stroke-width="0.75"/>
<circle cx="490.18" cy="308" r="2.25" fill="#c8600d" stroke="#1a1a1a" stroke-width="0.75"/>
<circle cx="490.77" cy="322.6" r="2.25" fill="#c8600d" stroke="#1a1a1a" stroke-width="0.75"/>
<circle cx="489.05" cy="329" r="2.25" fill="#c8600d" stroke="#1a1a1a" stroke-width="0.75"/>
<circle cx="490.25" cy="350" r="2.25" fill="#c8600d" stroke="#1a1a1a" stroke-width="0.75"/>
<circle cx="491.01" cy="353" r="2.25" fill="#c8600d" stroke="#1a1a1a" stroke-width="0.75"/>
<line x1="504.59" y1="310" x2="504.59" y2="328" stroke="#222" stroke-width="0.9" />
<line x1="502.59" y1="310" x2="506.59" y2="310" stroke="#222" stroke-width="0.9" />
<line x1="502.59" y1="328" x2="506.59" y2="328" stroke="#222" stroke-width="0.9" />
<circle cx="504.68" cy="309" r="2.25" fill="#c77db9" stroke="#1a1a1a" stroke-width="0.75"/>
<circle cx="504.86" cy="312" r="2.25" fill="#c77db9" stroke="#1a1a1a" stroke-width="0.75"/>
<circle cx="505.69" cy="315" r="2.25" fill="#c77db9" stroke="#1a1a1a" stroke-width="0.75"/>
<circle cx="505.87" cy="318" r="2.25" fill="#c77db9" stroke="#1a1a1a" stroke-width="0.75"/>
<circle cx="505.81" cy="322" r="2.25" fill="#c77db9" stroke="#1a1a1a" stroke-width="0.75"/>
<circle cx="504.16" cy="326" r="2.25" fill="#c77db9" stroke="#1a1a1a" stroke-width="0.75"/>
<circle cx="506.03" cy="330.6" r="2.25" fill="#c77db9" stroke="#1a1a1a" stroke-width="0.75"/>
<line x1="519.42" y1="309" x2="519.42" y2="319" stroke="#222" stroke-width="0.9" />
<line x1="517.42" y1="309" x2="521.42" y2="309" stroke="#222" stroke-width="0.9" />
<line x1="517.42" y1="319" x2="521.42" y2="319" stroke="#222" stroke-width="0.9" />
<circle cx="519.58" cy="307" r="2.25" fill="#c49267" stroke="#1a1a1a" stroke-width="0.75"/>
<circle cx="520.22" cy="310" r="2.25" fill="#c49267" stroke="#1a1a1a" stroke-width="0.75"/>
<circle cx="520.21" cy="313" r="2.25" fill="#c49267" stroke="#1a1a1a" stroke-width="0.75"/>
<circle cx="520.59" cy="316" r="2.25" fill="#c49267" stroke="#1a1a1a" stroke-width="0.75"/>
<circle cx="518.73" cy="319" r="2.25" fill="#c49267" stroke="#1a1a1a" stroke-width="0.75"/>
<line x1="534.25" y1="290" x2="534.25" y2="305" stroke="#222" stroke-width="0.9" />
<line x1="532.25" y1="290" x2="536.25" y2="290" stroke="#222" stroke-width="0.9" />
<line x1="532.25" y1="305" x2="536.25" y2="305" stroke="#222" stroke-width="0.9" />
<circle cx="533.7" cy="289" r="2.25" fill="#f6b4e2" stroke="#1a1a1a" stroke-width="0.75"/>
<circle cx="535.8" cy="292" r="2.25" fill="#f6b4e2" stroke="#1a1a1a" stroke-width="0.75"/>
<circle cx="535.72" cy="297" r="2.25" fill="#f6b4e2" stroke="#1a1a1a" stroke-width="0.75"/>
<circle cx="535.59" cy="301" r="2.25" fill="#f6b4e2" stroke="#1a1a1a" stroke-width="0.75"/>
<circle cx="535.18" cy="304" r="2.25" fill="#f6b4e2" stroke="#1a1a1a" stroke-width="0.75"/>
<circle cx="535.45" cy="306" r="2.25" fill="#f6b4e2" stroke="#1a1a1a" stroke-width="0.75"/>
<line x1="575.03" y1="298" x2="575.03" y2="306" stroke="#222" stroke-width="0.9" />
<line x1="573.03" y1="298" x2="577.03" y2="298" stroke="#222" stroke-width="0.9" />
<line x1="573.03" y1="306" x2="577.03" y2="306" stroke="#222" stroke-width="0.9" />
<circle cx="574.9" cy="297" r="2.25" fill="#0c70a7" stroke="#1a1a1a" stroke-width="0.75"/>
<circle cx="576.24" cy="300" r="2.25" fill="#0c70a7" stroke="#1a1a1a" stroke-width="0.75"/>
<circle cx="573.53" cy="305" r="2.25" fill="#0c70a7" stroke="#1a1a1a" stroke-width="0.75"/>
<circle cx="574.33" cy="308" r="2.25" fill="#0c70a7" stroke="#1a1a1a" stroke-width="0.75"/>
<line x1="589.86" y1="296" x2="589.86" y2="314" stroke="#222" stroke-width="0.9" />
<line x1="587.86" y1="296" x2="591.86" y2="296" stroke="#222" stroke-width="0.9" />
<line x1="587.86" y1="314" x2="591.86" y2="314" stroke="#222" stroke-width="0.9" />
<circle cx="589.48" cy="294" r="2.25" fill="#d18b12" stroke="#1a1a1a" stroke-width="0.75"/>
<circle cx="589" cy="297" r="2.25" fill="#d18b12" stroke="#1a1a1a" stroke-width="0.75"/>
<circle cx="588.79" cy="300" r="2.25" fill="#d18b12" stroke="#1a1a1a" stroke-width="0.75"/>
<circle cx="591.18" cy="304" r="2.25" fill="#d18b12" stroke="#1a1a1a" stroke-width="0.75"/>
<circle cx="590.11" cy="308" r="2.25" fill="#d18b12" stroke="#1a1a1a" stroke-width="0.75"/>
<circle cx="590.47" cy="312" r="2.25" fill="#d18b12" stroke="#1a1a1a" stroke-width="0.75"/>
<circle cx="590.03" cy="316" r="2.25" fill="#d18b12" stroke="#1a1a1a" stroke-width="0.75"/>
<line x1="604.69" y1="281" x2="604.69" y2="339.4" stroke="#222" stroke-width="0.9" />
<line x1="602.69" y1="281" x2="606.69" y2="281" stroke="#222" stroke-width="0.9" />
<line x1="602.69" y1="339.4" x2="606.69" y2="339.4" stroke="#222" stroke-width="0.9" />
<circle cx="605.14" cy="294.6" r="2.25" fill="#0b956f" stroke="#1a1a1a" stroke-width="0.75"/>
<circle cx="603.17" cy="298" r="2.25" fill="#0b956f" stroke="#1a1a1a" stroke-width="0.75"/>
<circle cx="603.97" cy="300" r="2.25" fill="#0b956f" stroke="#1a1a1a" stroke-width="0.75"/>
<circle cx="603.8" cy="366.6" r="2.25" fill="#0b956f" stroke="#1a1a1a" stroke-width="0.75"/>
<line x1="619.52" y1="288" x2="619.52" y2="294" stroke="#222" stroke-width="0.9" />
<line x1="617.52" y1="288" x2="621.52" y2="288" stroke="#222" stroke-width="0.9" />
<line x1="617.52" y1="294" x2="621.52" y2="294" stroke="#222" stroke-width="0.9" />
<circle cx="618.04" cy="288" r="2.25" fill="#c8600d" stroke="#1a1a1a" stroke-width="0.75"/>
<circle cx="620.15" cy="290.5" r="2.25" fill="#c8600d" stroke="#1a1a1a" stroke-width="0.75"/>
<circle cx="618.38" cy="293" r="2.25" fill="#c8600d" stroke="#1a1a1a" stroke-width="0.75"/>
<circle cx="619.4" cy="294.6" r="2.25" fill="#c8600d" stroke="#1a1a1a" stroke-width="0.75"/>
<line x1="634.35" y1="289" x2="634.35" y2="296" stroke="#222" stroke-width="0.9" />
<line x1="632.35" y1="289" x2="636.35" y2="289" stroke="#222" stroke-width="0.9" />
<line x1="632.35" y1="296" x2="636.35" y2="296" stroke="#222" stroke-width="0.9" />
<circle cx="634.06" cy="288.6" r="2.25" fill="#c77db9" stroke="#1a1a1a" stroke-width="0.75"/>
<circle cx="634.48" cy="291" r="2.25" fill="#c77db9" stroke="#1a1a1a" stroke-width="0.75"/>
<circle cx="635.51" cy="293" r="2.25" fill="#c77db9" stroke="#1a1a1a" stroke-width="0.75"/>
<circle cx="633.32" cy="296" r="2.25" fill="#c77db9" stroke="#1a1a1a" stroke-width="0.75"/>
<line x1="649.18" y1="290" x2="649.18" y2="298" stroke="#222" stroke-width="0.9" />
<line x1="647.18" y1="290" x2="651.18" y2="290" stroke="#222" stroke-width="0.9" />
<line x1="647.18" y1="298" x2="651.18" y2="298" stroke="#222" stroke-width="0.9" />
<circle cx="648.45" cy="289" r="2.25" fill="#c49267" stroke="#1a1a1a" stroke-width="0.75"/>
<circle cx="649.14" cy="292" r="2.25" fill="#c49267" stroke="#1a1a1a" stroke-width="0.75"/>
<circle cx="647.84" cy="295" r="2.25" fill="#c49267" stroke="#1a1a1a" stroke-width="0.75"/>
<circle cx="648.66" cy="297" r="2.25" fill="#c49267" stroke="#1a1a1a" stroke-width="0.75"/>
<circle cx="647.81" cy="299.4" r="2.25" fill="#c49267" stroke="#1a1a1a" stroke-width="0.75"/>
<line x1="664.01" y1="285" x2="664.01" y2="291" stroke="#222" stroke-width="0.9" />
<line x1="662.01" y1="285" x2="666.01" y2="285" stroke="#222" stroke-width="0.9" />
<line x1="662.01" y1="291" x2="666.01" y2="291" stroke="#222" stroke-width="0.9" />
<circle cx="665.25" cy="285" r="2.25" fill="#f6b4e2" stroke="#1a1a1a" stroke-width="0.75"/>
<circle cx="663.69" cy="287" r="2.25" fill="#f6b4e2" stroke="#1a1a1a" stroke-width="0.75"/>
<circle cx="664.29" cy="289" r="2.25" fill="#f6b4e2" stroke="#1a1a1a" stroke-width="0.75"/>
<circle cx="665.16" cy="292" r="2.25" fill="#f6b4e2" stroke="#1a1a1a" stroke-width="0.75"/>
<rect x="48.99" y="381" width="14" height="7.2" fill="white" />
<text x="55.99" y="387.5" font-size="6.5" text-anchor="middle" font-weight="normal" fill="#141414" >0.20</text>
<rect x="63.82" y="376" width="14" height="7.2" fill="white" />
<text x="70.82" y="382.5" font-size="6.5" text-anchor="middle" font-weight="normal" fill="#141414" >0.28</text>
<rect x="78.65" y="333.8" width="14" height="7.2" fill="white" />
<text x="85.65" y="340.3" font-size="6.5" text-anchor="middle" font-weight="normal" fill="#141414" >0.42</text>
<rect x="93.48" y="332.4" width="14" height="7.2" fill="white" />
<text x="100.48" y="338.9" font-size="6.5" text-anchor="middle" font-weight="normal" fill="#141414" >0.45</text>
<rect x="108.31" y="346" width="14" height="7.2" fill="white" />
<text x="115.31" y="352.5" font-size="6.5" text-anchor="middle" font-weight="normal" fill="#141414" >0.49</text>
<rect x="123.14" y="314" width="14" height="7.2" fill="white" />
<text x="130.14" y="320.5" font-size="6.5" text-anchor="middle" font-weight="normal" fill="#141414" >0.67</text>
<rect x="137.97" y="290" width="14" height="7.2" fill="white" />
<text x="144.97" y="296.5" font-size="6.5" text-anchor="middle" font-weight="normal" fill="#141414" >0.85</text>
<rect x="178.75" y="320.8" width="14" height="7.2" fill="white" />
<text x="185.75" y="327.3" font-size="6.5" text-anchor="middle" font-weight="normal" fill="#141414" >0.61</text>
<rect x="193.58" y="334" width="14" height="7.2" fill="white" />
<text x="200.58" y="340.5" font-size="6.5" text-anchor="middle" font-weight="normal" fill="#141414" >0.52</text>
<rect x="208.41" y="320.4" width="14" height="7.2" fill="white" />
<text x="215.41" y="326.9" font-size="6.5" text-anchor="middle" font-weight="normal" fill="#141414" >0.68</text>
<rect x="223.24" y="321.8" width="14" height="7.2" fill="white" />
<text x="230.24" y="328.3" font-size="6.5" text-anchor="middle" font-weight="normal" fill="#141414" >0.66</text>
<rect x="238.07" y="316.4" width="14" height="7.2" fill="white" />
<text x="245.07" y="322.9" font-size="6.5" text-anchor="middle" font-weight="normal" fill="#141414" >0.69</text>
<rect x="252.9" y="321" width="14" height="7.2" fill="white" />
<text x="259.9" y="327.5" font-size="6.5" text-anchor="middle" font-weight="normal" fill="#141414" >0.65</text>
<rect x="267.73" y="310.4" width="14" height="7.2" fill="white" />
<text x="274.73" y="316.9" font-size="6.5" text-anchor="middle" font-weight="normal" fill="#141414" >0.73</text>
<rect x="308.51" y="338" width="14" height="7.2" fill="white" />
<text x="315.51" y="344.5" font-size="6.5" text-anchor="middle" font-weight="normal" fill="#141414" >0.48</text>
<rect x="323.34" y="353.8" width="14" height="7.2" fill="white" />
<text x="330.34" y="360.3" font-size="6.5" text-anchor="middle" font-weight="normal" fill="#141414" >0.44</text>
<rect x="338.17" y="312.4" width="14" height="7.2" fill="white" />
<text x="345.17" y="318.9" font-size="6.5" text-anchor="middle" font-weight="normal" fill="#141414" >0.59</text>
<rect x="353" y="306.4" width="14" height="7.2" fill="white" />
<text x="360" y="312.9" font-size="6.5" text-anchor="middle" font-weight="normal" fill="#141414" >0.69</text>
<rect x="367.83" y="310" width="14" height="7.2" fill="white" />
<text x="374.83" y="316.5" font-size="6.5" text-anchor="middle" font-weight="normal" fill="#141414" >0.70</text>
<rect x="382.66" y="300" width="14" height="7.2" fill="white" />
<text x="389.66" y="306.5" font-size="6.5" text-anchor="middle" font-weight="normal" fill="#141414" >0.79</text>
<rect x="397.49" y="284.8" width="14" height="7.2" fill="white" />
<text x="404.49" y="291.3" font-size="6.5" text-anchor="middle" font-weight="normal" fill="#141414" >0.89</text>
<rect x="438.27" y="325.8" width="14" height="7.2" fill="white" />
<text x="445.27" y="332.3" font-size="6.5" text-anchor="middle" font-weight="normal" fill="#141414" >0.53</text>
<rect x="453.1" y="332.8" width="14" height="7.2" fill="white" />
<text x="460.1" y="339.3" font-size="6.5" text-anchor="middle" font-weight="normal" fill="#141414" >0.54</text>
<rect x="467.93" y="302" width="14" height="7.2" fill="white" />
<text x="474.93" y="308.5" font-size="6.5" text-anchor="middle" font-weight="normal" fill="#141414" >0.65</text>
<rect x="482.76" y="289" width="14" height="7.2" fill="white" />
<text x="489.76" y="295.5" font-size="6.5" text-anchor="middle" font-weight="normal" fill="#141414" >0.77</text>
<rect x="497.59" y="297.8" width="14" height="7.2" fill="white" />
<text x="504.59" y="304.3" font-size="6.5" text-anchor="middle" font-weight="normal" fill="#141414" >0.80</text>
<rect x="512.42" y="291" width="14" height="7.2" fill="white" />
<text x="519.42" y="297.5" font-size="6.5" text-anchor="middle" font-weight="normal" fill="#141414" >0.84</text>
<rect x="527.25" y="276" width="14" height="7.2" fill="white" />
<text x="534.25" y="282.5" font-size="6.5" text-anchor="middle" font-weight="normal" fill="#141414" >0.94</text>
<rect x="568.03" y="283.8" width="14" height="7.2" fill="white" />
<text x="575.03" y="290.3" font-size="6.5" text-anchor="middle" font-weight="normal" fill="#141414" >0.91</text>
<rect x="582.86" y="282.8" width="14" height="7.2" fill="white" />
<text x="589.86" y="289.3" font-size="6.5" text-anchor="middle" font-weight="normal" fill="#141414" >0.89</text>
<rect x="597.69" y="270.8" width="14" height="7.2" fill="white" />
<text x="604.69" y="277.3" font-size="6.5" text-anchor="middle" font-weight="normal" fill="#141414" >0.85</text>
<rect x="612.52" y="276.4" width="14" height="7.2" fill="white" />
<text x="619.52" y="282.9" font-size="6.5" text-anchor="middle" font-weight="normal" fill="#141414" >0.97</text>
<rect x="627.35" y="277.8" width="14" height="7.2" fill="white" />
<text x="634.35" y="284.3" font-size="6.5" text-anchor="middle" font-weight="normal" fill="#141414" >0.96</text>
<rect x="642.18" y="277.8" width="14" height="7.2" fill="white" />
<text x="649.18" y="284.3" font-size="6.5" text-anchor="middle" font-weight="normal" fill="#141414" >0.96</text>
<rect x="657.01" y="273.4" width="14" height="7.2" fill="white" />
<text x="664.01" y="279.9" font-size="6.5" text-anchor="middle" font-weight="normal" fill="#141414" >0.99</text>
<line x1="35.6" y1="637.24" x2="684.4" y2="637.24" stroke="#c2c2c2" stroke-width="0.85" />
<line x1="35.6" y1="603.98" x2="684.4" y2="603.98" stroke="#c2c2c2" stroke-width="0.85" />
<line x1="35.6" y1="570.72" x2="684.4" y2="570.72" stroke="#c2c2c2" stroke-width="0.85" />
<line x1="35.6" y1="537.46" x2="684.4" y2="537.46" stroke="#c2c2c2" stroke-width="0.85" />
<line x1="35.6" y1="504.2" x2="684.4" y2="504.2" stroke="#c2c2c2" stroke-width="0.85" />
<rect x="35.6" y="489" width="648.8" height="181.5" fill="none" stroke="#cccccc" stroke-width="1"/>
<text x="27.6" y="674.3" font-size="10" text-anchor="end" font-weight="normal" fill="#262626" >0.0</text>
<text x="27.6" y="641.04" font-size="10" text-anchor="end" font-weight="normal" fill="#262626" >0.2</text>
<text x="27.6" y="607.78" font-size="10" text-anchor="end" font-weight="normal" fill="#262626" >0.4</text>
<text x="27.6" y="574.52" font-size="10" text-anchor="end" font-weight="normal" fill="#262626" >0.6</text>
<text x="27.6" y="541.26" font-size="10" text-anchor="end" font-weight="normal" fill="#262626" >0.8</text>
<text x="27.6" y="508" font-size="10" text-anchor="end" font-weight="normal" fill="#262626" >1.0</text>
<line x1="165.36" y1="489.5" x2="165.36" y2="670.5" stroke="#4a4a4a" stroke-width="1.05" stroke-dasharray="1.2 1.75"/>
<line x1="295.12" y1="489.5" x2="295.12" y2="670.5" stroke="#4a4a4a" stroke-width="1.05" stroke-dasharray="1.2 1.75"/>
<line x1="424.88" y1="489.5" x2="424.88" y2="670.5" stroke="#4a4a4a" stroke-width="1.05" stroke-dasharray="1.2 1.75"/>
<line x1="554.64" y1="489.5" x2="554.64" y2="670.5" stroke="#4a4a4a" stroke-width="1.05" stroke-dasharray="1.2 1.75"/>
<text x="48.6" y="505.3" font-size="10" text-anchor="start" font-weight="bold" fill="#262626" >(d)</text>
<rect x="49.28" y="638.9" width="13.43" height="31.6" fill="#0c70a7" />
<rect x="64.11" y="628.92" width="13.43" height="41.58" fill="#d18b12" />
<rect x="78.94" y="578.2" width="13.43" height="92.3" fill="#0b956f" />
<rect x="93.77" y="595.66" width="13.43" height="74.84" fill="#c8600d" />
<rect x="108.59" y="582.36" width="13.43" height="88.14" fill="#c77db9" />
<rect x="123.42" y="556.42" width="13.43" height="114.08" fill="#c49267" />
<rect x="138.25" y="545.28" width="13.43" height="125.22" fill="#f6b4e2" />
<text x="100.48" y="686" font-size="10" text-anchor="middle" font-weight="normal" fill="#262626" >Cmprh.</text>
<rect x="179.04" y="585.69" width="13.43" height="84.81" fill="#0c70a7" />
<rect x="193.87" y="565.73" width="13.43" height="104.77" fill="#d18b12" />
<rect x="208.7" y="554.09" width="13.43" height="116.41" fill="#0b956f" />
<rect x="223.53" y="559.58" width="13.43" height="110.92" fill="#c8600d" />
<rect x="238.35" y="558.41" width="13.43" height="112.09" fill="#c77db9" />
<rect x="253.18" y="557.91" width="13.43" height="112.59" fill="#c49267" />
<rect x="268.01" y="549.93" width="13.43" height="120.57" fill="#f6b4e2" />
<text x="230.24" y="686" font-size="10" text-anchor="middle" font-weight="normal" fill="#262626" >Correct</text>
<rect x="308.8" y="603.15" width="13.43" height="67.35" fill="#0c70a7" />
<rect x="323.63" y="594.83" width="13.43" height="75.67" fill="#d18b12" />
<rect x="338.46" y="554.09" width="13.43" height="116.41" fill="#0b956f" />
<rect x="353.29" y="564.07" width="13.43" height="106.43" fill="#c8600d" />
<rect x="368.11" y="556.09" width="13.43" height="114.41" fill="#c77db9" />
<rect x="382.94" y="543.28" width="13.43" height="127.22" fill="#c49267" />
<rect x="397.77" y="534.97" width="13.43" height="135.53" fill="#f6b4e2" />
<text x="360" y="686" font-size="10" text-anchor="middle" font-weight="normal" fill="#262626" >Useful</text>
<rect x="438.56" y="591.01" width="13.43" height="79.49" fill="#0c70a7" />
<rect x="453.39" y="581.53" width="13.43" height="88.97" fill="#d18b12" />
<rect x="468.22" y="541.45" width="13.43" height="129.05" fill="#0b956f" />
<rect x="483.05" y="554.09" width="13.43" height="116.41" fill="#c8600d" />
<rect x="497.87" y="539.12" width="13.43" height="131.38" fill="#c77db9" />
<rect x="512.7" y="534.63" width="13.43" height="135.87" fill="#c49267" />
<rect x="527.53" y="526.15" width="13.43" height="144.35" fill="#f6b4e2" />
<text x="489.76" y="686" font-size="10" text-anchor="middle" font-weight="normal" fill="#262626" >Explnb.</text>
<rect x="568.32" y="527.98" width="13.43" height="142.52" fill="#0c70a7" />
<rect x="583.15" y="528.31" width="13.43" height="142.19" fill="#d18b12" />
<rect x="597.98" y="515.84" width="13.43" height="154.66" fill="#0b956f" />
<rect x="612.81" y="515.84" width="13.43" height="154.66" fill="#c8600d" />
<rect x="627.63" y="517.84" width="13.43" height="152.66" fill="#c77db9" />
<rect x="642.46" y="512.85" width="13.43" height="157.65" fill="#c49267" />
<rect x="657.29" y="515.84" width="13.43" height="154.66" fill="#f6b4e2" />
<text x="619.52" y="686" font-size="10" text-anchor="middle" font-weight="normal" fill="#262626" >Safe</text>
<line x1="55.99" y1="634" x2="55.99" y2="644" stroke="#222" stroke-width="0.9" />
<line x1="53.99" y1="634" x2="57.99" y2="634" stroke="#222" stroke-width="0.9" />
<line x1="53.99" y1="644" x2="57.99" y2="644" stroke="#222" stroke-width="0.9" />
<circle cx="57.09" cy="633" r="2.25" fill="#0c70a7" stroke="#1a1a1a" stroke-width="0.75"/>
<circle cx="56.82" cy="636" r="2.25" fill="#0c70a7" stroke="#1a1a1a" stroke-width="0.75"/>
<circle cx="55.74" cy="640" r="2.25" fill="#0c70a7" stroke="#1a1a1a" stroke-width="0.75"/>
<circle cx="55.22" cy="643" r="2.25" fill="#0c70a7" stroke="#1a1a1a" stroke-width="0.75"/>
<circle cx="56.03" cy="645" r="2.25" fill="#0c70a7" stroke="#1a1a1a" stroke-width="0.75"/>
<line x1="70.82" y1="616" x2="70.82" y2="640" stroke="#222" stroke-width="0.9" />
<line x1="68.82" y1="616" x2="72.82" y2="616" stroke="#222" stroke-width="0.9" />
<line x1="68.82" y1="640" x2="72.82" y2="640" stroke="#222" stroke-width="0.9" />
<circle cx="69.65" cy="611.4" r="2.25" fill="#d18b12" stroke="#1a1a1a" stroke-width="0.75"/>
<circle cx="71.93" cy="619" r="2.25" fill="#d18b12" stroke="#1a1a1a" stroke-width="0.75"/>
<circle cx="71.66" cy="627" r="2.25" fill="#d18b12" stroke="#1a1a1a" stroke-width="0.75"/>
<circle cx="70.04" cy="638" r="2.25" fill="#d18b12" stroke="#1a1a1a" stroke-width="0.75"/>
<circle cx="70.81" cy="641" r="2.25" fill="#d18b12" stroke="#1a1a1a" stroke-width="0.75"/>
<line x1="85.65" y1="572" x2="85.65" y2="587" stroke="#222" stroke-width="0.9" />
<line x1="83.65" y1="572" x2="87.65" y2="572" stroke="#222" stroke-width="0.9" />
<line x1="83.65" y1="587" x2="87.65" y2="587" stroke="#222" stroke-width="0.9" />
<circle cx="87.11" cy="570" r="2.25" fill="#0b956f" stroke="#1a1a1a" stroke-width="0.75"/>
<circle cx="87.08" cy="573" r="2.25" fill="#0b956f" stroke="#1a1a1a" stroke-width="0.75"/>
<circle cx="84.23" cy="576" r="2.25" fill="#0b956f" stroke="#1a1a1a" stroke-width="0.75"/>
<circle cx="84.32" cy="579" r="2.25" fill="#0b956f" stroke="#1a1a1a" stroke-width="0.75"/>
<circle cx="86.72" cy="582" r="2.25" fill="#0b956f" stroke="#1a1a1a" stroke-width="0.75"/>
<circle cx="86.41" cy="585" r="2.25" fill="#0b956f" stroke="#1a1a1a" stroke-width="0.75"/>
<circle cx="86.19" cy="589" r="2.25" fill="#0b956f" stroke="#1a1a1a" stroke-width="0.75"/>
<line x1="100.48" y1="567" x2="100.48" y2="623" stroke="#222" stroke-width="0.9" />
<line x1="98.48" y1="567" x2="102.48" y2="567" stroke="#222" stroke-width="0.9" />
<line x1="98.48" y1="623" x2="102.48" y2="623" stroke="#222" stroke-width="0.9" />
<circle cx="99.64" cy="567.4" r="2.25" fill="#c8600d" stroke="#1a1a1a" stroke-width="0.75"/>
<circle cx="100.62" cy="590" r="2.25" fill="#c8600d" stroke="#1a1a1a" stroke-width="0.75"/>
<circle cx="100.06" cy="623" r="2.25" fill="#c8600d" stroke="#1a1a1a" stroke-width="0.75"/>
<circle cx="100.81" cy="627" r="2.25" fill="#c8600d" stroke="#1a1a1a" stroke-width="0.75"/>
<line x1="115.31" y1="576" x2="115.31" y2="588" stroke="#222" stroke-width="0.9" />
<line x1="113.31" y1="576" x2="117.31" y2="576" stroke="#222" stroke-width="0.9" />
<line x1="113.31" y1="588" x2="117.31" y2="588" stroke="#222" stroke-width="0.9" />
<circle cx="114.47" cy="575" r="2.25" fill="#c77db9" stroke="#1a1a1a" stroke-width="0.75"/>
<circle cx="114.04" cy="578" r="2.25" fill="#c77db9" stroke="#1a1a1a" stroke-width="0.75"/>
<circle cx="114.98" cy="581" r="2.25" fill="#c77db9" stroke="#1a1a1a" stroke-width="0.75"/>
<circle cx="114.21" cy="584" r="2.25" fill="#c77db9" stroke="#1a1a1a" stroke-width="0.75"/>
<circle cx="113.92" cy="587" r="2.25" fill="#c77db9" stroke="#1a1a1a" stroke-width="0.75"/>
<line x1="130.14" y1="548" x2="130.14" y2="565" stroke="#222" stroke-width="0.9" />
<line x1="128.14" y1="548" x2="132.14" y2="548" stroke="#222" stroke-width="0.9" />
<line x1="128.14" y1="565" x2="132.14" y2="565" stroke="#222" stroke-width="0.9" />
<circle cx="130.53" cy="546" r="2.25" fill="#c49267" stroke="#1a1a1a" stroke-width="0.75"/>
<circle cx="130.91" cy="549" r="2.25" fill="#c49267" stroke="#1a1a1a" stroke-width="0.75"/>
<circle cx="131.08" cy="552" r="2.25" fill="#c49267" stroke="#1a1a1a" stroke-width="0.75"/>
<circle cx="131.56" cy="555" r="2.25" fill="#c49267" stroke="#1a1a1a" stroke-width="0.75"/>
<circle cx="130.91" cy="558" r="2.25" fill="#c49267" stroke="#1a1a1a" stroke-width="0.75"/>
<circle cx="131.49" cy="562" r="2.25" fill="#c49267" stroke="#1a1a1a" stroke-width="0.75"/>
<circle cx="128.63" cy="566" r="2.25" fill="#c49267" stroke="#1a1a1a" stroke-width="0.75"/>
<circle cx="130.03" cy="570" r="2.25" fill="#c49267" stroke="#1a1a1a" stroke-width="0.75"/>
<line x1="144.97" y1="536" x2="144.97" y2="554" stroke="#222" stroke-width="0.9" />
<line x1="142.97" y1="536" x2="146.97" y2="536" stroke="#222" stroke-width="0.9" />
<line x1="142.97" y1="554" x2="146.97" y2="554" stroke="#222" stroke-width="0.9" />
<circle cx="145.91" cy="534.6" r="2.25" fill="#f6b4e2" stroke="#1a1a1a" stroke-width="0.75"/>
<circle cx="146" cy="543" r="2.25" fill="#f6b4e2" stroke="#1a1a1a" stroke-width="0.75"/>
<circle cx="144.92" cy="553" r="2.25" fill="#f6b4e2" stroke="#1a1a1a" stroke-width="0.75"/>
<circle cx="144.21" cy="555" r="2.25" fill="#f6b4e2" stroke="#1a1a1a" stroke-width="0.75"/>
<line x1="185.75" y1="578" x2="185.75" y2="591" stroke="#222" stroke-width="0.9" />
<line x1="183.75" y1="578" x2="187.75" y2="578" stroke="#222" stroke-width="0.9" />
<line x1="183.75" y1="591" x2="187.75" y2="591" stroke="#222" stroke-width="0.9" />
<circle cx="185.98" cy="578" r="2.25" fill="#0c70a7" stroke="#1a1a1a" stroke-width="0.75"/>
<circle cx="185.52" cy="583" r="2.25" fill="#0c70a7" stroke="#1a1a1a" stroke-width="0.75"/>
<circle cx="186" cy="586" r="2.25" fill="#0c70a7" stroke="#1a1a1a" stroke-width="0.75"/>
<circle cx="184.81" cy="596" r="2.25" fill="#0c70a7" stroke="#1a1a1a" stroke-width="0.75"/>
<line x1="200.58" y1="561" x2="200.58" y2="571" stroke="#222" stroke-width="0.9" />
<line x1="198.58" y1="561" x2="202.58" y2="561" stroke="#222" stroke-width="0.9" />
<line x1="198.58" y1="571" x2="202.58" y2="571" stroke="#222" stroke-width="0.9" />
<circle cx="200.43" cy="558" r="2.25" fill="#d18b12" stroke="#1a1a1a" stroke-width="0.75"/>
<circle cx="200.77" cy="561" r="2.25" fill="#d18b12" stroke="#1a1a1a" stroke-width="0.75"/>
<circle cx="201.94" cy="564" r="2.25" fill="#d18b12" stroke="#1a1a1a" stroke-width="0.75"/>
<circle cx="200.47" cy="567" r="2.25" fill="#d18b12" stroke="#1a1a1a" stroke-width="0.75"/>
<circle cx="200.61" cy="569" r="2.25" fill="#d18b12" stroke="#1a1a1a" stroke-width="0.75"/>
<line x1="215.41" y1="549" x2="215.41" y2="556" stroke="#222" stroke-width="0.9" />
<line x1="213.41" y1="549" x2="217.41" y2="549" stroke="#222" stroke-width="0.9" />
<line x1="213.41" y1="556" x2="217.41" y2="556" stroke="#222" stroke-width="0.9" />
<circle cx="215.33" cy="548" r="2.25" fill="#0b956f" stroke="#1a1a1a" stroke-width="0.75"/>
<circle cx="215.91" cy="551" r="2.25" fill="#0b956f" stroke="#1a1a1a" stroke-width="0.75"/>
<circle cx="215.94" cy="554" r="2.25" fill="#0b956f" stroke="#1a1a1a" stroke-width="0.75"/>
<circle cx="214.27" cy="557.4" r="2.25" fill="#0b956f" stroke="#1a1a1a" stroke-width="0.75"/>
<line x1="230.24" y1="553" x2="230.24" y2="562" stroke="#222" stroke-width="0.9" />
<line x1="228.24" y1="553" x2="232.24" y2="553" stroke="#222" stroke-width="0.9" />
<line x1="228.24" y1="562" x2="232.24" y2="562" stroke="#222" stroke-width="0.9" />
<circle cx="229.47" cy="553" r="2.25" fill="#c8600d" stroke="#1a1a1a" stroke-width="0.75"/>
<circle cx="230.83" cy="556" r="2.25" fill="#c8600d" stroke="#1a1a1a" stroke-width="0.75"/>
<circle cx="230.83" cy="559" r="2.25" fill="#c8600d" stroke="#1a1a1a" stroke-width="0.75"/>
<circle cx="231.36" cy="562" r="2.25" fill="#c8600d" stroke="#1a1a1a" stroke-width="0.75"/>
<line x1="245.07" y1="557" x2="245.07" y2="560" stroke="#222" stroke-width="0.9" />
<line x1="243.07" y1="557" x2="247.07" y2="557" stroke="#222" stroke-width="0.9" />
<line x1="243.07" y1="560" x2="247.07" y2="560" stroke="#222" stroke-width="0.9" />
<circle cx="243.81" cy="557" r="2.25" fill="#c77db9" stroke="#1a1a1a" stroke-width="0.75"/>
<circle cx="245.72" cy="558.5" r="2.25" fill="#c77db9" stroke="#1a1a1a" stroke-width="0.75"/>
<circle cx="245.56" cy="559.4" r="2.25" fill="#c77db9" stroke="#1a1a1a" stroke-width="0.75"/>
<line x1="259.9" y1="552" x2="259.9" y2="562" stroke="#222" stroke-width="0.9" />
<line x1="257.9" y1="552" x2="261.9" y2="552" stroke="#222" stroke-width="0.9" />
<line x1="257.9" y1="562" x2="261.9" y2="562" stroke="#222" stroke-width="0.9" />
<circle cx="261.39" cy="551" r="2.25" fill="#c49267" stroke="#1a1a1a" stroke-width="0.75"/>
<circle cx="258.34" cy="554" r="2.25" fill="#c49267" stroke="#1a1a1a" stroke-width="0.75"/>
<circle cx="260.65" cy="559" r="2.25" fill="#c49267" stroke="#1a1a1a" stroke-width="0.75"/>
<circle cx="258.81" cy="562" r="2.25" fill="#c49267" stroke="#1a1a1a" stroke-width="0.75"/>
<line x1="274.73" y1="545" x2="274.73" y2="555" stroke="#222" stroke-width="0.9" />
<line x1="272.73" y1="545" x2="276.73" y2="545" stroke="#222" stroke-width="0.9" />
<line x1="272.73" y1="555" x2="276.73" y2="555" stroke="#222" stroke-width="0.9" />
<circle cx="274.29" cy="544" r="2.25" fill="#f6b4e2" stroke="#1a1a1a" stroke-width="0.75"/>
<circle cx="274.67" cy="547" r="2.25" fill="#f6b4e2" stroke="#1a1a1a" stroke-width="0.75"/>
<circle cx="274.46" cy="550" r="2.25" fill="#f6b4e2" stroke="#1a1a1a" stroke-width="0.75"/>
<circle cx="274.56" cy="553" r="2.25" fill="#f6b4e2" stroke="#1a1a1a" stroke-width="0.75"/>
<circle cx="274.44" cy="555" r="2.25" fill="#f6b4e2" stroke="#1a1a1a" stroke-width="0.75"/>
<line x1="315.51" y1="600" x2="315.51" y2="606" stroke="#222" stroke-width="0.9" />
<line x1="313.51" y1="600" x2="317.51" y2="600" stroke="#222" stroke-width="0.9" />
<line x1="313.51" y1="606" x2="317.51" y2="606" stroke="#222" stroke-width="0.9" />
<circle cx="316.81" cy="599" r="2.25" fill="#0c70a7" stroke="#1a1a1a" stroke-width="0.75"/>
<circle cx="316.11" cy="602" r="2.25" fill="#0c70a7" stroke="#1a1a1a" stroke-width="0.75"/>
<circle cx="316.36" cy="604" r="2.25" fill="#0c70a7" stroke="#1a1a1a" stroke-width="0.75"/>
<circle cx="316.81" cy="606" r="2.25" fill="#0c70a7" stroke="#1a1a1a" stroke-width="0.75"/>
<line x1="330.34" y1="582" x2="330.34" y2="604" stroke="#222" stroke-width="0.9" />
<line x1="328.34" y1="582" x2="332.34" y2="582" stroke="#222" stroke-width="0.9" />
<line x1="328.34" y1="604" x2="332.34" y2="604" stroke="#222" stroke-width="0.9" />
<circle cx="329.27" cy="581.6" r="2.25" fill="#d18b12" stroke="#1a1a1a" stroke-width="0.75"/>
<circle cx="330.95" cy="584" r="2.25" fill="#d18b12" stroke="#1a1a1a" stroke-width="0.75"/>
<circle cx="330.77" cy="594" r="2.25" fill="#d18b12" stroke="#1a1a1a" stroke-width="0.75"/>
<circle cx="330.27" cy="601" r="2.25" fill="#d18b12" stroke="#1a1a1a" stroke-width="0.75"/>
<circle cx="329.43" cy="604" r="2.25" fill="#d18b12" stroke="#1a1a1a" stroke-width="0.75"/>
<line x1="345.17" y1="549" x2="345.17" y2="557" stroke="#222" stroke-width="0.9" />
<line x1="343.17" y1="549" x2="347.17" y2="549" stroke="#222" stroke-width="0.9" />
<line x1="343.17" y1="557" x2="347.17" y2="557" stroke="#222" stroke-width="0.9" />
<circle cx="346.64" cy="548" r="2.25" fill="#0b956f" stroke="#1a1a1a" stroke-width="0.75"/>
<circle cx="344.02" cy="550" r="2.25" fill="#0b956f" stroke="#1a1a1a" stroke-width="0.75"/>
<circle cx="343.65" cy="553" r="2.25" fill="#0b956f" stroke="#1a1a1a" stroke-width="0.75"/>
<circle cx="346.77" cy="556" r="2.25" fill="#0b956f" stroke="#1a1a1a" stroke-width="0.75"/>
<circle cx="344.16" cy="558" r="2.25" fill="#0b956f" stroke="#1a1a1a" stroke-width="0.75"/>
<line x1="360" y1="551" x2="360" y2="578" stroke="#222" stroke-width="0.9" />
<line x1="358" y1="551" x2="362" y2="551" stroke="#222" stroke-width="0.9" />
<line x1="358" y1="578" x2="362" y2="578" stroke="#222" stroke-width="0.9" />
<circle cx="361.36" cy="551" r="2.25" fill="#c8600d" stroke="#1a1a1a" stroke-width="0.75"/>
<circle cx="361.44" cy="553" r="2.25" fill="#c8600d" stroke="#1a1a1a" stroke-width="0.75"/>
<circle cx="361.26" cy="576" r="2.25" fill="#c8600d" stroke="#1a1a1a" stroke-width="0.75"/>
<circle cx="358.67" cy="582" r="2.25" fill="#c8600d" stroke="#1a1a1a" stroke-width="0.75"/>
<line x1="374.83" y1="551" x2="374.83" y2="562" stroke="#222" stroke-width="0.9" />
<line x1="372.83" y1="551" x2="376.83" y2="551" stroke="#222" stroke-width="0.9" />
<line x1="372.83" y1="562" x2="376.83" y2="562" stroke="#222" stroke-width="0.9" />
<circle cx="375.51" cy="550" r="2.25" fill="#c77db9" stroke="#1a1a1a" stroke-width="0.75"/>
<circle cx="375.92" cy="553" r="2.25" fill="#c77db9" stroke="#1a1a1a" stroke-width="0.75"/>
<circle cx="373.81" cy="556" r="2.25" fill="#c77db9" stroke="#1a1a1a" stroke-width="0.75"/>
<circle cx="376.42" cy="559" r="2.25" fill="#c77db9" stroke="#1a1a1a" stroke-width="0.75"/>
<circle cx="373.85" cy="563" r="2.25" fill="#c77db9" stroke="#1a1a1a" stroke-width="0.75"/>
<line x1="389.66" y1="536" x2="389.66" y2="551" stroke="#222" stroke-width="0.9" />
<line x1="387.66" y1="536" x2="391.66" y2="536" stroke="#222" stroke-width="0.9" />
<line x1="387.66" y1="551" x2="391.66" y2="551" stroke="#222" stroke-width="0.9" />
<circle cx="389.27" cy="534" r="2.25" fill="#c49267" stroke="#1a1a1a" stroke-width="0.75"/>
<circle cx="391.03" cy="537" r="2.25" fill="#c49267" stroke="#1a1a1a" stroke-width="0.75"/>
<circle cx="390.76" cy="540" r="2.25" fill="#c49267" stroke="#1a1a1a" stroke-width="0.75"/>
<circle cx="388.74" cy="544" r="2.25" fill="#c49267" stroke="#1a1a1a" stroke-width="0.75"/>
<circle cx="390.85" cy="548" r="2.25" fill="#c49267" stroke="#1a1a1a" stroke-width="0.75"/>
<circle cx="390.1" cy="553" r="2.25" fill="#c49267" stroke="#1a1a1a" stroke-width="0.75"/>
<line x1="404.49" y1="528" x2="404.49" y2="542" stroke="#222" stroke-width="0.9" />
<line x1="402.49" y1="528" x2="406.49" y2="528" stroke="#222" stroke-width="0.9" />
<line x1="402.49" y1="542" x2="406.49" y2="542" stroke="#222" stroke-width="0.9" />
<circle cx="405.28" cy="527" r="2.25" fill="#f6b4e2" stroke="#1a1a1a" stroke-width="0.75"/>
<circle cx="403.54" cy="530" r="2.25" fill="#f6b4e2" stroke="#1a1a1a" stroke-width="0.75"/>
<circle cx="403.55" cy="534" r="2.25" fill="#f6b4e2" stroke="#1a1a1a" stroke-width="0.75"/>
<circle cx="404.81" cy="538" r="2.25" fill="#f6b4e2" stroke="#1a1a1a" stroke-width="0.75"/>
<circle cx="403.07" cy="541" r="2.25" fill="#f6b4e2" stroke="#1a1a1a" stroke-width="0.75"/>
<circle cx="405.37" cy="543" r="2.25" fill="#f6b4e2" stroke="#1a1a1a" stroke-width="0.75"/>
<line x1="445.27" y1="583" x2="445.27" y2="596" stroke="#222" stroke-width="0.9" />
<line x1="443.27" y1="583" x2="447.27" y2="583" stroke="#222" stroke-width="0.9" />
<line x1="443.27" y1="596" x2="447.27" y2="596" stroke="#222" stroke-width="0.9" />
<circle cx="445.4" cy="582" r="2.25" fill="#0c70a7" stroke="#1a1a1a" stroke-width="0.75"/>
<circle cx="444.6" cy="585" r="2.25" fill="#0c70a7" stroke="#1a1a1a" stroke-width="0.75"/>
<circle cx="443.77" cy="588" r="2.25" fill="#0c70a7" stroke="#1a1a1a" stroke-width="0.75"/>
<circle cx="445.76" cy="592" r="2.25" fill="#0c70a7" stroke="#1a1a1a" stroke-width="0.75"/>
<circle cx="444.34" cy="597" r="2.25" fill="#0c70a7" stroke="#1a1a1a" stroke-width="0.75"/>
<circle cx="444.49" cy="600.6" r="2.25" fill="#0c70a7" stroke="#1a1a1a" stroke-width="0.75"/>
<line x1="460.1" y1="565" x2="460.1" y2="595" stroke="#222" stroke-width="0.9" />
<line x1="458.1" y1="565" x2="462.1" y2="565" stroke="#222" stroke-width="0.9" />
<line x1="458.1" y1="595" x2="462.1" y2="595" stroke="#222" stroke-width="0.9" />
<circle cx="458.54" cy="565" r="2.25" fill="#d18b12" stroke="#1a1a1a" stroke-width="0.75"/>
<circle cx="458.86" cy="567" r="2.25" fill="#d18b12" stroke="#1a1a1a" stroke-width="0.75"/>
<circle cx="459.76" cy="582" r="2.25" fill="#d18b12" stroke="#1a1a1a" stroke-width="0.75"/>
<circle cx="460.69" cy="590" r="2.25" fill="#d18b12" stroke="#1a1a1a" stroke-width="0.75"/>
<circle cx="458.94" cy="595" r="2.25" fill="#d18b12" stroke="#1a1a1a" stroke-width="0.75"/>
<line x1="474.93" y1="532" x2="474.93" y2="545" stroke="#222" stroke-width="0.9" />
<line x1="472.93" y1="532" x2="476.93" y2="532" stroke="#222" stroke-width="0.9" />
<line x1="472.93" y1="545" x2="476.93" y2="545" stroke="#222" stroke-width="0.9" />
<circle cx="473.58" cy="530" r="2.25" fill="#0b956f" stroke="#1a1a1a" stroke-width="0.75"/>
<circle cx="474.01" cy="533" r="2.25" fill="#0b956f" stroke="#1a1a1a" stroke-width="0.75"/>
<circle cx="474.3" cy="538" r="2.25" fill="#0b956f" stroke="#1a1a1a" stroke-width="0.75"/>
<circle cx="476.21" cy="541" r="2.25" fill="#0b956f" stroke="#1a1a1a" stroke-width="0.75"/>
<circle cx="474.92" cy="544" r="2.25" fill="#0b956f" stroke="#1a1a1a" stroke-width="0.75"/>
<circle cx="475.64" cy="546" r="2.25" fill="#0b956f" stroke="#1a1a1a" stroke-width="0.75"/>
<line x1="489.76" y1="540" x2="489.76" y2="570" stroke="#222" stroke-width="0.9" />
<line x1="487.76" y1="540" x2="491.76" y2="540" stroke="#222" stroke-width="0.9" />
<line x1="487.76" y1="570" x2="491.76" y2="570" stroke="#222" stroke-width="0.9" />
<circle cx="489.99" cy="540" r="2.25" fill="#c8600d" stroke="#1a1a1a" stroke-width="0.75"/>
<circle cx="490.18" cy="542.6" r="2.25" fill="#c8600d" stroke="#1a1a1a" stroke-width="0.75"/>
<circle cx="490.77" cy="567" r="2.25" fill="#c8600d" stroke="#1a1a1a" stroke-width="0.75"/>
<circle cx="489.05" cy="574" r="2.25" fill="#c8600d" stroke="#1a1a1a" stroke-width="0.75"/>
<line x1="504.59" y1="531" x2="504.59" y2="544" stroke="#222" stroke-width="0.9" />
<line x1="502.59" y1="531" x2="506.59" y2="531" stroke="#222" stroke-width="0.9" />
<line x1="502.59" y1="544" x2="506.59" y2="544" stroke="#222" stroke-width="0.9" />
<circle cx="504.68" cy="530" r="2.25" fill="#c77db9" stroke="#1a1a1a" stroke-width="0.75"/>
<circle cx="504.86" cy="533" r="2.25" fill="#c77db9" stroke="#1a1a1a" stroke-width="0.75"/>
<circle cx="505.69" cy="537" r="2.25" fill="#c77db9" stroke="#1a1a1a" stroke-width="0.75"/>
<circle cx="505.87" cy="540" r="2.25" fill="#c77db9" stroke="#1a1a1a" stroke-width="0.75"/>
<circle cx="505.81" cy="543" r="2.25" fill="#c77db9" stroke="#1a1a1a" stroke-width="0.75"/>
<circle cx="504.16" cy="544.6" r="2.25" fill="#c77db9" stroke="#1a1a1a" stroke-width="0.75"/>
<line x1="519.42" y1="527" x2="519.42" y2="543" stroke="#222" stroke-width="0.9" />
<line x1="517.42" y1="527" x2="521.42" y2="527" stroke="#222" stroke-width="0.9" />
<line x1="517.42" y1="543" x2="521.42" y2="543" stroke="#222" stroke-width="0.9" />
<circle cx="519.58" cy="526" r="2.25" fill="#c49267" stroke="#1a1a1a" stroke-width="0.75"/>
<circle cx="520.22" cy="529" r="2.25" fill="#c49267" stroke="#1a1a1a" stroke-width="0.75"/>
<circle cx="520.21" cy="533" r="2.25" fill="#c49267" stroke="#1a1a1a" stroke-width="0.75"/>
<circle cx="520.59" cy="537" r="2.25" fill="#c49267" stroke="#1a1a1a" stroke-width="0.75"/>
<circle cx="518.73" cy="541" r="2.25" fill="#c49267" stroke="#1a1a1a" stroke-width="0.75"/>
<circle cx="520.91" cy="545" r="2.25" fill="#c49267" stroke="#1a1a1a" stroke-width="0.75"/>
<line x1="534.25" y1="519" x2="534.25" y2="533" stroke="#222" stroke-width="0.9" />
<line x1="532.25" y1="519" x2="536.25" y2="519" stroke="#222" stroke-width="0.9" />
<line x1="532.25" y1="533" x2="536.25" y2="533" stroke="#222" stroke-width="0.9" />
<circle cx="533.7" cy="518" r="2.25" fill="#f6b4e2" stroke="#1a1a1a" stroke-width="0.75"/>
<circle cx="535.8" cy="521" r="2.25" fill="#f6b4e2" stroke="#1a1a1a" stroke-width="0.75"/>
<circle cx="535.72" cy="527" r="2.25" fill="#f6b4e2" stroke="#1a1a1a" stroke-width="0.75"/>
<circle cx="535.59" cy="530" r="2.25" fill="#f6b4e2" stroke="#1a1a1a" stroke-width="0.75"/>
<circle cx="535.18" cy="534" r="2.25" fill="#f6b4e2" stroke="#1a1a1a" stroke-width="0.75"/>
<line x1="575.03" y1="523" x2="575.03" y2="532" stroke="#222" stroke-width="0.9" />
<line x1="573.03" y1="523" x2="577.03" y2="523" stroke="#222" stroke-width="0.9" />
<line x1="573.03" y1="532" x2="577.03" y2="532" stroke="#222" stroke-width="0.9" />
<circle cx="574.9" cy="522" r="2.25" fill="#0c70a7" stroke="#1a1a1a" stroke-width="0.75"/>
<circle cx="576.24" cy="525" r="2.25" fill="#0c70a7" stroke="#1a1a1a" stroke-width="0.75"/>
<circle cx="573.53" cy="528" r="2.25" fill="#0c70a7" stroke="#1a1a1a" stroke-width="0.75"/>
<circle cx="574.33" cy="531" r="2.25" fill="#0c70a7" stroke="#1a1a1a" stroke-width="0.75"/>
<circle cx="576.51" cy="533" r="2.25" fill="#0c70a7" stroke="#1a1a1a" stroke-width="0.75"/>
<line x1="589.86" y1="521" x2="589.86" y2="536" stroke="#222" stroke-width="0.9" />
<line x1="587.86" y1="521" x2="591.86" y2="521" stroke="#222" stroke-width="0.9" />
<line x1="587.86" y1="536" x2="591.86" y2="536" stroke="#222" stroke-width="0.9" />
<circle cx="589.48" cy="520" r="2.25" fill="#d18b12" stroke="#1a1a1a" stroke-width="0.75"/>
<circle cx="589" cy="523" r="2.25" fill="#d18b12" stroke="#1a1a1a" stroke-width="0.75"/>
<circle cx="588.79" cy="527" r="2.25" fill="#d18b12" stroke="#1a1a1a" stroke-width="0.75"/>
<circle cx="591.18" cy="531" r="2.25" fill="#d18b12" stroke="#1a1a1a" stroke-width="0.75"/>
<circle cx="590.11" cy="535" r="2.25" fill="#d18b12" stroke="#1a1a1a" stroke-width="0.75"/>
<circle cx="590.47" cy="538.6" r="2.25" fill="#d18b12" stroke="#1a1a1a" stroke-width="0.75"/>
<line x1="604.69" y1="511" x2="604.69" y2="520" stroke="#222" stroke-width="0.9" />
<line x1="602.69" y1="511" x2="606.69" y2="511" stroke="#222" stroke-width="0.9" />
<line x1="602.69" y1="520" x2="606.69" y2="520" stroke="#222" stroke-width="0.9" />
<circle cx="605.14" cy="510" r="2.25" fill="#0b956f" stroke="#1a1a1a" stroke-width="0.75"/>
<circle cx="603.17" cy="513" r="2.25" fill="#0b956f" stroke="#1a1a1a" stroke-width="0.75"/>
<circle cx="603.97" cy="516" r="2.25" fill="#0b956f" stroke="#1a1a1a" stroke-width="0.75"/>
<circle cx="603.8" cy="519" r="2.25" fill="#0b956f" stroke="#1a1a1a" stroke-width="0.75"/>
<circle cx="605.45" cy="521" r="2.25" fill="#0b956f" stroke="#1a1a1a" stroke-width="0.75"/>
<line x1="619.52" y1="510" x2="619.52" y2="523" stroke="#222" stroke-width="0.9" />
<line x1="617.52" y1="510" x2="621.52" y2="510" stroke="#222" stroke-width="0.9" />
<line x1="617.52" y1="523" x2="621.52" y2="523" stroke="#222" stroke-width="0.9" />
<circle cx="618.04" cy="509" r="2.25" fill="#c8600d" stroke="#1a1a1a" stroke-width="0.75"/>
<circle cx="620.15" cy="512" r="2.25" fill="#c8600d" stroke="#1a1a1a" stroke-width="0.75"/>
<circle cx="618.38" cy="516" r="2.25" fill="#c8600d" stroke="#1a1a1a" stroke-width="0.75"/>
<circle cx="619.4" cy="520" r="2.25" fill="#c8600d" stroke="#1a1a1a" stroke-width="0.75"/>
<circle cx="620.07" cy="525" r="2.25" fill="#c8600d" stroke="#1a1a1a" stroke-width="0.75"/>
<line x1="634.35" y1="513" x2="634.35" y2="523" stroke="#222" stroke-width="0.9" />
<line x1="632.35" y1="513" x2="636.35" y2="513" stroke="#222" stroke-width="0.9" />
<line x1="632.35" y1="523" x2="636.35" y2="523" stroke="#222" stroke-width="0.9" />
<circle cx="634.06" cy="512" r="2.25" fill="#c77db9" stroke="#1a1a1a" stroke-width="0.75"/>
<circle cx="634.48" cy="515" r="2.25" fill="#c77db9" stroke="#1a1a1a" stroke-width="0.75"/>
<circle cx="635.51" cy="518" r="2.25" fill="#c77db9" stroke="#1a1a1a" stroke-width="0.75"/>
<circle cx="633.32" cy="521" r="2.25" fill="#c77db9" stroke="#1a1a1a" stroke-width="0.75"/>
<circle cx="633.47" cy="524.6" r="2.25" fill="#c77db9" stroke="#1a1a1a" stroke-width="0.75"/>
<line x1="649.18" y1="508" x2="649.18" y2="517" stroke="#222" stroke-width="0.9" />
<line x1="647.18" y1="508" x2="651.18" y2="508" stroke="#222" stroke-width="0.9" />
<line x1="647.18" y1="517" x2="651.18" y2="517" stroke="#222" stroke-width="0.9" />
<circle cx="648.45" cy="507" r="2.25" fill="#c49267" stroke="#1a1a1a" stroke-width="0.75"/>
<circle cx="649.14" cy="510" r="2.25" fill="#c49267" stroke="#1a1a1a" stroke-width="0.75"/>
<circle cx="647.84" cy="513" r="2.25" fill="#c49267" stroke="#1a1a1a" stroke-width="0.75"/>
<circle cx="648.66" cy="516" r="2.25" fill="#c49267" stroke="#1a1a1a" stroke-width="0.75"/>
<circle cx="647.81" cy="518" r="2.25" fill="#c49267" stroke="#1a1a1a" stroke-width="0.75"/>
<line x1="664.01" y1="510" x2="664.01" y2="519" stroke="#222" stroke-width="0.9" />
<line x1="662.01" y1="510" x2="666.01" y2="510" stroke="#222" stroke-width="0.9" />
<line x1="662.01" y1="519" x2="666.01" y2="519" stroke="#222" stroke-width="0.9" />
<circle cx="665.25" cy="509" r="2.25" fill="#f6b4e2" stroke="#1a1a1a" stroke-width="0.75"/>
<circle cx="663.69" cy="512" r="2.25" fill="#f6b4e2" stroke="#1a1a1a" stroke-width="0.75"/>
<circle cx="664.29" cy="515" r="2.25" fill="#f6b4e2" stroke="#1a1a1a" stroke-width="0.75"/>
<circle cx="665.16" cy="518" r="2.25" fill="#f6b4e2" stroke="#1a1a1a" stroke-width="0.75"/>
<circle cx="663.14" cy="520" r="2.25" fill="#f6b4e2" stroke="#1a1a1a" stroke-width="0.75"/>
<rect x="48.99" y="617.8" width="14" height="7.2" fill="white" />
<text x="55.99" y="624.3" font-size="6.5" text-anchor="middle" font-weight="normal" fill="#141414" >0.19</text>
<rect x="63.82" y="599" width="14" height="7.2" fill="white" />
<text x="70.82" y="605.5" font-size="6.5" text-anchor="middle" font-weight="normal" fill="#141414" >0.25</text>
<rect x="78.65" y="553.8" width="14" height="7.2" fill="white" />
<text x="85.65" y="560.3" font-size="6.5" text-anchor="middle" font-weight="normal" fill="#141414" >0.56</text>
<rect x="93.48" y="551.4" width="14" height="7.2" fill="white" />
<text x="100.48" y="557.9" font-size="6.5" text-anchor="middle" font-weight="normal" fill="#141414" >0.45</text>
<rect x="108.31" y="560.8" width="14" height="7.2" fill="white" />
<text x="115.31" y="567.3" font-size="6.5" text-anchor="middle" font-weight="normal" fill="#141414" >0.53</text>
<rect x="123.14" y="530.4" width="14" height="7.2" fill="white" />
<text x="130.14" y="536.9" font-size="6.5" text-anchor="middle" font-weight="normal" fill="#141414" >0.69</text>
<rect x="137.97" y="518" width="14" height="7.2" fill="white" />
<text x="144.97" y="524.5" font-size="6.5" text-anchor="middle" font-weight="normal" fill="#141414" >0.76</text>
<rect x="178.75" y="562.4" width="14" height="7.2" fill="white" />
<text x="185.75" y="568.9" font-size="6.5" text-anchor="middle" font-weight="normal" fill="#141414" >0.51</text>
<rect x="193.58" y="544" width="14" height="7.2" fill="white" />
<text x="200.58" y="550.5" font-size="6.5" text-anchor="middle" font-weight="normal" fill="#141414" >0.63</text>
<rect x="208.41" y="533" width="14" height="7.2" fill="white" />
<text x="215.41" y="539.5" font-size="6.5" text-anchor="middle" font-weight="normal" fill="#141414" >0.70</text>
<rect x="223.24" y="537.8" width="14" height="7.2" fill="white" />
<text x="230.24" y="544.3" font-size="6.5" text-anchor="middle" font-weight="normal" fill="#141414" >0.67</text>
<rect x="238.07" y="540" width="14" height="7.2" fill="white" />
<text x="245.07" y="546.5" font-size="6.5" text-anchor="middle" font-weight="normal" fill="#141414" >0.68</text>
<rect x="252.9" y="536" width="14" height="7.2" fill="white" />
<text x="259.9" y="542.5" font-size="6.5" text-anchor="middle" font-weight="normal" fill="#141414" >0.68</text>
<rect x="267.73" y="529" width="14" height="7.2" fill="white" />
<text x="274.73" y="535.5" font-size="6.5" text-anchor="middle" font-weight="normal" fill="#141414" >0.73</text>
<rect x="308.51" y="583.8" width="14" height="7.2" fill="white" />
<text x="315.51" y="590.3" font-size="6.5" text-anchor="middle" font-weight="normal" fill="#141414" >0.41</text>
<rect x="323.34" y="566.4" width="14" height="7.2" fill="white" />
<text x="330.34" y="572.9" font-size="6.5" text-anchor="middle" font-weight="normal" fill="#141414" >0.46</text>
<rect x="338.17" y="533" width="14" height="7.2" fill="white" />
<text x="345.17" y="539.5" font-size="6.5" text-anchor="middle" font-weight="normal" fill="#141414" >0.71</text>
<rect x="353" y="533" width="14" height="7.2" fill="white" />
<text x="360" y="539.5" font-size="6.5" text-anchor="middle" font-weight="normal" fill="#141414" >0.65</text>
<rect x="367.83" y="534" width="14" height="7.2" fill="white" />
<text x="374.83" y="540.5" font-size="6.5" text-anchor="middle" font-weight="normal" fill="#141414" >0.69</text>
<rect x="382.66" y="519.8" width="14" height="7.2" fill="white" />
<text x="389.66" y="526.3" font-size="6.5" text-anchor="middle" font-weight="normal" fill="#141414" >0.77</text>
<rect x="397.49" y="511.8" width="14" height="7.2" fill="white" />
<text x="404.49" y="518.3" font-size="6.5" text-anchor="middle" font-weight="normal" fill="#141414" >0.82</text>
<rect x="438.27" y="567" width="14" height="7.2" fill="white" />
<text x="445.27" y="573.5" font-size="6.5" text-anchor="middle" font-weight="normal" fill="#141414" >0.48</text>
<rect x="453.1" y="551" width="14" height="7.2" fill="white" />
<text x="460.1" y="557.5" font-size="6.5" text-anchor="middle" font-weight="normal" fill="#141414" >0.54</text>
<rect x="467.93" y="517.4" width="14" height="7.2" fill="white" />
<text x="474.93" y="523.9" font-size="6.5" text-anchor="middle" font-weight="normal" fill="#141414" >0.78</text>
<rect x="482.76" y="522" width="14" height="7.2" fill="white" />
<text x="489.76" y="528.5" font-size="6.5" text-anchor="middle" font-weight="normal" fill="#141414" >0.70</text>
<rect x="497.59" y="517.8" width="14" height="7.2" fill="white" />
<text x="504.59" y="524.3" font-size="6.5" text-anchor="middle" font-weight="normal" fill="#141414" >0.79</text>
<rect x="512.42" y="510.4" width="14" height="7.2" fill="white" />
<text x="519.42" y="516.9" font-size="6.5" text-anchor="middle" font-weight="normal" fill="#141414" >0.82</text>
<rect x="527.25" y="502" width="14" height="7.2" fill="white" />
<text x="534.25" y="508.5" font-size="6.5" text-anchor="middle" font-weight="normal" fill="#141414" >0.87</text>
<rect x="568.03" y="507.4" width="14" height="7.2" fill="white" />
<text x="575.03" y="513.9" font-size="6.5" text-anchor="middle" font-weight="normal" fill="#141414" >0.86</text>
<rect x="582.86" y="505.8" width="14" height="7.2" fill="white" />
<text x="589.86" y="512.3" font-size="6.5" text-anchor="middle" font-weight="normal" fill="#141414" >0.86</text>
<rect x="597.69" y="495" width="14" height="7.2" fill="white" />
<text x="604.69" y="501.5" font-size="6.5" text-anchor="middle" font-weight="normal" fill="#141414" >0.93</text>
<rect x="612.52" y="493.8" width="14" height="7.2" fill="white" />
<text x="619.52" y="500.3" font-size="6.5" text-anchor="middle" font-weight="normal" fill="#141414" >0.93</text>
<rect x="627.35" y="496.8" width="14" height="7.2" fill="white" />
<text x="634.35" y="503.3" font-size="6.5" text-anchor="middle" font-weight="normal" fill="#141414" >0.92</text>
<rect x="642.18" y="491.8" width="14" height="7.2" fill="white" />
<text x="649.18" y="498.3" font-size="6.5" text-anchor="middle" font-weight="normal" fill="#141414" >0.95</text>
<rect x="657.01" y="494.4" width="14" height="7.2" fill="white" />
<text x="664.01" y="500.9" font-size="6.5" text-anchor="middle" font-weight="normal" fill="#141414" >0.93</text>
<text x="0" y="0" font-size="10" fill="#262626" text-anchor="middle" transform="translate(8.2,143.4) rotate(-90)">Mean balanced accuracy</text>
<text x="0" y="0" font-size="10" fill="#262626" text-anchor="middle" transform="translate(8.2,361.3) rotate(-90)">Mean balanced accuracy</text>
<text x="0" y="0" font-size="10" fill="#262626" text-anchor="middle" transform="translate(8.2,579.75) rotate(-90)">Mean balanced accuracy</text>
</svg>
</body></html>
